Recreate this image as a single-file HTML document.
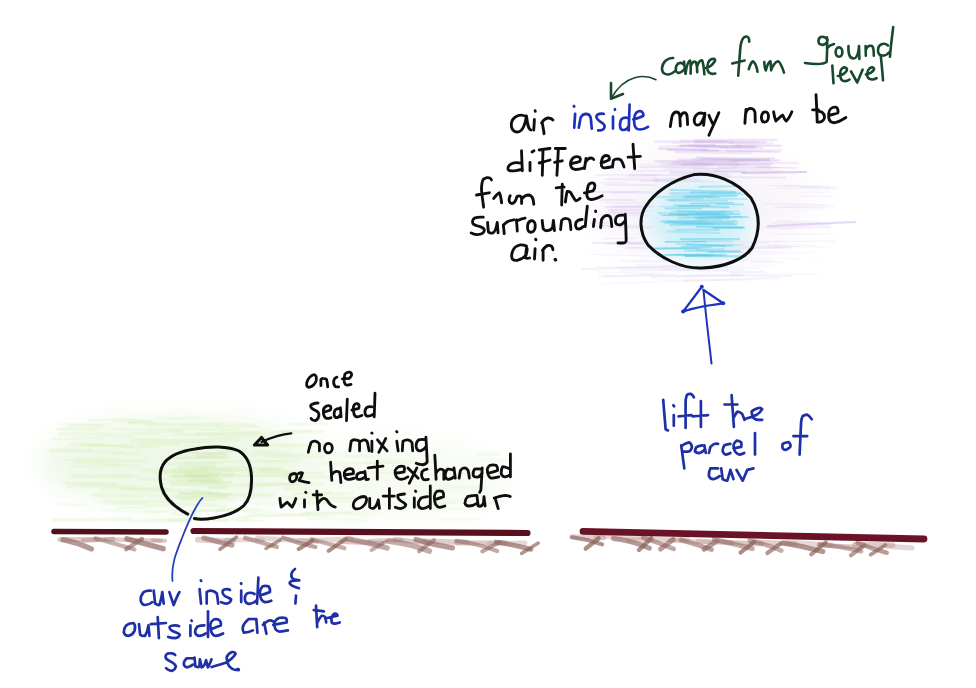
<!DOCTYPE html>
<html><head><meta charset="utf-8"><title>Air parcel</title>
<style>html,body{margin:0;padding:0;background:#fff;width:976px;height:688px;overflow:hidden;font-family:"Liberation Sans",sans-serif}svg{display:block}</style>
</head><body>
<svg width="976" height="688" viewBox="0 0 976 688">
<defs><filter id="blur" x="-50%" y="-50%" width="200%" height="200%"><feGaussianBlur stdDeviation="12"/></filter></defs>
<rect width="976" height="688" fill="#ffffff"/>
<g fill="none" stroke-linecap="round"><ellipse cx="180" cy="462" rx="140" ry="46" fill="#eef8e6" opacity="0.9" filter="url(#blur)"/>
<ellipse cx="390" cy="480" rx="120" ry="38" fill="#f4faee" opacity="0.7" filter="url(#blur)"/>
<path d="M216.6,451.7 L245.7,450.9" stroke="#d4eeb2" stroke-width="3.1" stroke-opacity="0.19"/>
<path d="M58.8,424.0 L109.2,423.8" stroke="#d4eeb2" stroke-width="2.1" stroke-opacity="0.15"/>
<path d="M76.7,462.1 L146.3,461.0" stroke="#d4eeb2" stroke-width="3.3" stroke-opacity="0.27"/>
<path d="M285.5,478.0 L329.3,476.8" stroke="#d4eeb2" stroke-width="3.7" stroke-opacity="0.18"/>
<path d="M129.6,433.0 L156.6,433.5" stroke="#d4eeb2" stroke-width="2.4" stroke-opacity="0.22"/>
<path d="M182.9,484.4 L225.3,483.3" stroke="#d4eeb2" stroke-width="2.1" stroke-opacity="0.17"/>
<path d="M125.2,488.8 L170.8,489.0" stroke="#d4eeb2" stroke-width="2.9" stroke-opacity="0.18"/>
<path d="M104.4,500.6 L166.4,500.9" stroke="#d4eeb2" stroke-width="3.1" stroke-opacity="0.26"/>
<path d="M292.8,493.9 L330.1,493.0" stroke="#d4eeb2" stroke-width="2.8" stroke-opacity="0.25"/>
<path d="M59.2,433.8 L108.6,434.3" stroke="#d4eeb2" stroke-width="3.5" stroke-opacity="0.22"/>
<path d="M221.2,509.0 L260.0,509.3" stroke="#d4eeb2" stroke-width="3.2" stroke-opacity="0.20"/>
<path d="M148.8,505.4 L225.4,506.1" stroke="#d4eeb2" stroke-width="2.1" stroke-opacity="0.24"/>
<path d="M218.8,485.3 L298.4,484.3" stroke="#d4eeb2" stroke-width="2.8" stroke-opacity="0.23"/>
<path d="M89.9,420.3 L137.6,419.3" stroke="#d4eeb2" stroke-width="2.1" stroke-opacity="0.25"/>
<path d="M147.8,431.5 L182.7,432.2" stroke="#d4eeb2" stroke-width="2.2" stroke-opacity="0.20"/>
<path d="M223.7,475.1 L296.7,476.7" stroke="#d4eeb2" stroke-width="2.6" stroke-opacity="0.20"/>
<path d="M253.0,455.3 L326.0,453.8" stroke="#d4eeb2" stroke-width="2.4" stroke-opacity="0.17"/>
<path d="M189.0,442.3 L238.1,441.6" stroke="#d4eeb2" stroke-width="2.0" stroke-opacity="0.20"/>
<path d="M270.2,456.4 L324.2,457.0" stroke="#d4eeb2" stroke-width="3.0" stroke-opacity="0.23"/>
<path d="M285.5,488.3 L308.7,488.7" stroke="#d4eeb2" stroke-width="3.7" stroke-opacity="0.25"/>
<path d="M75.0,458.8 L118.9,459.2" stroke="#d4eeb2" stroke-width="2.1" stroke-opacity="0.15"/>
<path d="M136.8,439.7 L166.5,438.9" stroke="#d4eeb2" stroke-width="2.0" stroke-opacity="0.16"/>
<path d="M56.2,428.6 L98.0,429.5" stroke="#d4eeb2" stroke-width="3.2" stroke-opacity="0.16"/>
<path d="M138.9,444.2 L179.8,443.3" stroke="#d4eeb2" stroke-width="3.7" stroke-opacity="0.28"/>
<path d="M70.3,466.5 L119.3,465.3" stroke="#d4eeb2" stroke-width="2.7" stroke-opacity="0.18"/>
<path d="M55.9,504.2 L85.6,505.0" stroke="#d4eeb2" stroke-width="3.1" stroke-opacity="0.16"/>
<path d="M189.1,474.5 L210.7,475.1" stroke="#d4eeb2" stroke-width="3.7" stroke-opacity="0.24"/>
<path d="M90.6,445.2 L132.6,445.8" stroke="#d4eeb2" stroke-width="3.1" stroke-opacity="0.25"/>
<path d="M254.2,452.3 L287.6,453.3" stroke="#d4eeb2" stroke-width="3.7" stroke-opacity="0.25"/>
<path d="M100.0,503.1 L164.4,503.2" stroke="#d4eeb2" stroke-width="2.7" stroke-opacity="0.14"/>
<path d="M114.3,420.9 L151.1,421.3" stroke="#d4eeb2" stroke-width="3.9" stroke-opacity="0.20"/>
<path d="M246.5,515.5 L325.7,514.8" stroke="#d4eeb2" stroke-width="2.4" stroke-opacity="0.17"/>
<path d="M207.7,438.5 L240.0,439.2" stroke="#d4eeb2" stroke-width="3.7" stroke-opacity="0.21"/>
<path d="M68.4,485.9 L136.4,486.6" stroke="#d4eeb2" stroke-width="3.8" stroke-opacity="0.25"/>
<path d="M92.2,496.0 L140.9,496.9" stroke="#d4eeb2" stroke-width="2.7" stroke-opacity="0.25"/>
<path d="M146.8,519.1 L190.6,520.2" stroke="#d4eeb2" stroke-width="3.4" stroke-opacity="0.16"/>
<path d="M281.6,431.2 L310.6,431.7" stroke="#d4eeb2" stroke-width="2.3" stroke-opacity="0.26"/>
<path d="M129.0,520.0 L188.5,520.1" stroke="#d4eeb2" stroke-width="2.3" stroke-opacity="0.14"/>
<path d="M169.0,519.0 L228.0,520.5" stroke="#d4eeb2" stroke-width="2.9" stroke-opacity="0.26"/>
<path d="M113.5,503.9 L146.2,503.5" stroke="#d4eeb2" stroke-width="2.5" stroke-opacity="0.22"/>
<path d="M81.4,445.0 L126.6,446.1" stroke="#d4eeb2" stroke-width="2.7" stroke-opacity="0.20"/>
<path d="M138.6,478.7 L212.9,480.5" stroke="#d4eeb2" stroke-width="3.0" stroke-opacity="0.21"/>
<path d="M166.1,472.4 L187.3,472.0" stroke="#d4eeb2" stroke-width="2.0" stroke-opacity="0.25"/>
<path d="M221.6,435.9 L270.0,436.1" stroke="#d4eeb2" stroke-width="2.7" stroke-opacity="0.21"/>
<path d="M73.1,475.8 L140.2,476.0" stroke="#d4eeb2" stroke-width="2.5" stroke-opacity="0.18"/>
<path d="M181.7,498.3 L232.2,499.1" stroke="#d4eeb2" stroke-width="3.8" stroke-opacity="0.20"/>
<path d="M170.2,481.7 L220.5,482.3" stroke="#d4eeb2" stroke-width="2.9" stroke-opacity="0.21"/>
<path d="M195.8,467.7 L272.3,469.4" stroke="#d4eeb2" stroke-width="3.9" stroke-opacity="0.18"/>
<path d="M225.1,476.2 L301.7,474.5" stroke="#d4eeb2" stroke-width="2.2" stroke-opacity="0.20"/>
<path d="M68.3,425.5 L102.8,425.9" stroke="#d4eeb2" stroke-width="3.6" stroke-opacity="0.27"/>
<path d="M196.6,434.1 L259.6,432.7" stroke="#d4eeb2" stroke-width="3.8" stroke-opacity="0.28"/>
<path d="M132.8,440.8 L209.9,440.8" stroke="#d4eeb2" stroke-width="4.0" stroke-opacity="0.26"/>
<path d="M173.3,434.8 L219.2,434.3" stroke="#d4eeb2" stroke-width="2.4" stroke-opacity="0.18"/>
<path d="M196.2,493.1 L217.3,493.0" stroke="#d4eeb2" stroke-width="2.0" stroke-opacity="0.19"/>
<path d="M65.1,482.9 L115.8,484.4" stroke="#d4eeb2" stroke-width="3.6" stroke-opacity="0.28"/>
<path d="M59.9,428.9 L95.8,429.5" stroke="#d4eeb2" stroke-width="2.5" stroke-opacity="0.16"/>
<path d="M222.2,461.9 L296.9,460.8" stroke="#d4eeb2" stroke-width="2.3" stroke-opacity="0.27"/>
<path d="M69.9,477.3 L132.0,475.7" stroke="#d4eeb2" stroke-width="3.4" stroke-opacity="0.20"/>
<path d="M182.4,425.5 L258.7,426.9" stroke="#d4eeb2" stroke-width="2.2" stroke-opacity="0.26"/>
<path d="M146.8,424.9 L218.5,424.2" stroke="#d4eeb2" stroke-width="3.1" stroke-opacity="0.27"/>
<path d="M185.5,445.9 L213.3,445.4" stroke="#d4eeb2" stroke-width="2.2" stroke-opacity="0.16"/>
<path d="M128.9,423.2 L161.0,422.9" stroke="#d4eeb2" stroke-width="3.5" stroke-opacity="0.18"/>
<path d="M138.3,470.0 L168.9,469.1" stroke="#d4eeb2" stroke-width="2.5" stroke-opacity="0.14"/>
<path d="M93.9,494.2 L147.0,494.2" stroke="#d4eeb2" stroke-width="3.9" stroke-opacity="0.15"/>
<path d="M168.3,503.2 L214.3,504.1" stroke="#d4eeb2" stroke-width="2.8" stroke-opacity="0.21"/>
<path d="M120.6,489.5 L199.6,491.1" stroke="#d4eeb2" stroke-width="3.4" stroke-opacity="0.23"/>
<path d="M63.3,460.1 L104.1,459.2" stroke="#d4eeb2" stroke-width="2.1" stroke-opacity="0.24"/>
<path d="M71.6,444.6 L101.4,445.2" stroke="#d4eeb2" stroke-width="3.7" stroke-opacity="0.23"/>
<path d="M123.4,447.3 L157.9,447.2" stroke="#d4eeb2" stroke-width="2.3" stroke-opacity="0.20"/>
<path d="M251.6,445.4 L329.3,445.6" stroke="#d4eeb2" stroke-width="2.5" stroke-opacity="0.28"/>
<path d="M50.3,450.2 L91.7,449.9" stroke="#d4eeb2" stroke-width="2.9" stroke-opacity="0.21"/>
<path d="M51.2,438.9 L101.4,438.2" stroke="#d4eeb2" stroke-width="2.2" stroke-opacity="0.20"/>
<path d="M130.2,422.3 L151.6,422.0" stroke="#d4eeb2" stroke-width="3.2" stroke-opacity="0.21"/>
<path d="M211.5,496.1 L270.9,497.4" stroke="#d4eeb2" stroke-width="2.8" stroke-opacity="0.19"/>
<path d="M235.4,520.4 L264.4,520.7" stroke="#d4eeb2" stroke-width="2.1" stroke-opacity="0.26"/>
<path d="M216.8,510.8 L274.5,511.8" stroke="#d4eeb2" stroke-width="2.3" stroke-opacity="0.21"/>
<path d="M222.9,470.5 L293.0,471.8" stroke="#d4eeb2" stroke-width="3.2" stroke-opacity="0.26"/>
<path d="M101.4,489.0 L163.0,487.3" stroke="#d4eeb2" stroke-width="2.3" stroke-opacity="0.19"/>
<path d="M170.0,428.9 L240.1,429.4" stroke="#d4eeb2" stroke-width="3.3" stroke-opacity="0.24"/>
<path d="M261.2,468.9 L281.4,469.2" stroke="#d4eeb2" stroke-width="3.0" stroke-opacity="0.21"/>
<path d="M242.3,486.6 L266.3,486.2" stroke="#d4eeb2" stroke-width="2.1" stroke-opacity="0.18"/>
<path d="M236.9,493.9 L269.3,494.8" stroke="#d4eeb2" stroke-width="3.0" stroke-opacity="0.19"/>
<path d="M221.8,467.8 L282.8,468.2" stroke="#d4eeb2" stroke-width="3.3" stroke-opacity="0.15"/>
<path d="M235.6,433.3 L270.9,432.9" stroke="#d4eeb2" stroke-width="3.1" stroke-opacity="0.14"/>
<path d="M217.2,424.3 L253.4,424.7" stroke="#d4eeb2" stroke-width="3.4" stroke-opacity="0.18"/>
<path d="M160.6,471.7 L208.5,470.6" stroke="#d4eeb2" stroke-width="3.8" stroke-opacity="0.17"/>
<path d="M53.7,519.7 L129.8,519.5" stroke="#d4eeb2" stroke-width="3.6" stroke-opacity="0.28"/>
<path d="M102.2,464.7 L138.3,465.7" stroke="#d4eeb2" stroke-width="2.4" stroke-opacity="0.22"/>
<path d="M272.5,432.7 L324.0,431.6" stroke="#d4eeb2" stroke-width="3.6" stroke-opacity="0.21"/>
<path d="M101.6,510.2 L163.8,511.7" stroke="#d4eeb2" stroke-width="3.0" stroke-opacity="0.14"/>
<path d="M156.2,418.4 L205.7,417.8" stroke="#d4eeb2" stroke-width="2.3" stroke-opacity="0.19"/>
<path d="M50.4,450.9 L120.8,451.9" stroke="#d4eeb2" stroke-width="3.7" stroke-opacity="0.16"/>
<path d="M250.3,514.3 L313.1,513.6" stroke="#d4eeb2" stroke-width="2.7" stroke-opacity="0.20"/>
<path d="M132.8,521.9 L188.2,521.6" stroke="#d4eeb2" stroke-width="2.6" stroke-opacity="0.15"/>
<path d="M111.4,428.6 L181.5,430.4" stroke="#d4eeb2" stroke-width="2.5" stroke-opacity="0.18"/>
<path d="M144.7,471.1 L176.1,472.0" stroke="#d4eeb2" stroke-width="3.8" stroke-opacity="0.25"/>
<path d="M247.7,483.6 L322.5,483.8" stroke="#d4eeb2" stroke-width="3.4" stroke-opacity="0.15"/>
<path d="M229.1,494.2 L276.1,494.6" stroke="#d4eeb2" stroke-width="2.6" stroke-opacity="0.15"/>
<path d="M171.5,514.4 L199.2,514.1" stroke="#d4eeb2" stroke-width="2.6" stroke-opacity="0.24"/>
<path d="M213.6,519.5 L249.2,519.1" stroke="#d4eeb2" stroke-width="3.1" stroke-opacity="0.20"/>
<path d="M103.1,435.4 L132.8,436.1" stroke="#d4eeb2" stroke-width="3.0" stroke-opacity="0.17"/>
<path d="M142.3,512.3 L222.1,510.5" stroke="#d4eeb2" stroke-width="2.4" stroke-opacity="0.15"/>
<path d="M112.1,453.6 L137.5,453.2" stroke="#d4eeb2" stroke-width="3.1" stroke-opacity="0.26"/>
<path d="M149.4,496.0 L194.2,496.0" stroke="#d4eeb2" stroke-width="2.8" stroke-opacity="0.19"/>
<path d="M290.3,424.5 L327.0,423.6" stroke="#d4eeb2" stroke-width="3.0" stroke-opacity="0.23"/>
<path d="M118.3,507.7 L151.3,507.2" stroke="#d4eeb2" stroke-width="2.8" stroke-opacity="0.20"/>
<path d="M236.9,517.2 L307.8,515.2" stroke="#d4eeb2" stroke-width="2.1" stroke-opacity="0.24"/>
<path d="M188.9,511.2 L237.3,509.7" stroke="#d4eeb2" stroke-width="2.8" stroke-opacity="0.27"/>
<path d="M257.7,503.9 L329.1,502.8" stroke="#d4eeb2" stroke-width="2.2" stroke-opacity="0.16"/>
<path d="M261.0,472.3 L321.9,473.1" stroke="#d4eeb2" stroke-width="3.3" stroke-opacity="0.25"/>
<path d="M258.6,484.0 L311.7,484.9" stroke="#dcf0c0" stroke-width="2.5" stroke-opacity="0.19"/>
<path d="M279.7,497.2 L317.9,496.6" stroke="#dcf0c0" stroke-width="3.3" stroke-opacity="0.17"/>
<path d="M378.9,459.8 L403.1,460.0" stroke="#dcf0c0" stroke-width="2.8" stroke-opacity="0.12"/>
<path d="M325.2,494.1 L345.8,494.0" stroke="#dcf0c0" stroke-width="3.9" stroke-opacity="0.16"/>
<path d="M302.0,513.9 L350.5,513.1" stroke="#dcf0c0" stroke-width="3.9" stroke-opacity="0.17"/>
<path d="M373.9,473.5 L395.2,473.7" stroke="#dcf0c0" stroke-width="2.8" stroke-opacity="0.13"/>
<path d="M294.1,498.7 L369.6,496.6" stroke="#dcf0c0" stroke-width="2.7" stroke-opacity="0.14"/>
<path d="M439.8,499.8 L471.7,500.2" stroke="#dcf0c0" stroke-width="3.0" stroke-opacity="0.12"/>
<path d="M439.7,519.9 L478.4,519.3" stroke="#dcf0c0" stroke-width="2.4" stroke-opacity="0.18"/>
<path d="M345.6,472.6 L422.7,471.2" stroke="#dcf0c0" stroke-width="2.4" stroke-opacity="0.14"/>
<path d="M278.3,498.6 L355.2,498.1" stroke="#dcf0c0" stroke-width="2.4" stroke-opacity="0.20"/>
<path d="M264.8,461.9 L288.0,461.8" stroke="#dcf0c0" stroke-width="3.8" stroke-opacity="0.19"/>
<path d="M427.1,503.3 L507.0,502.5" stroke="#dcf0c0" stroke-width="2.4" stroke-opacity="0.19"/>
<path d="M414.8,504.2 L436.7,504.1" stroke="#dcf0c0" stroke-width="2.7" stroke-opacity="0.13"/>
<path d="M319.9,463.8 L340.1,463.7" stroke="#dcf0c0" stroke-width="3.9" stroke-opacity="0.11"/>
<path d="M334.7,519.5 L367.2,520.1" stroke="#dcf0c0" stroke-width="3.6" stroke-opacity="0.14"/>
<path d="M332.6,455.4 L381.0,456.7" stroke="#dcf0c0" stroke-width="2.4" stroke-opacity="0.14"/>
<path d="M352.0,514.8 L373.8,515.2" stroke="#dcf0c0" stroke-width="3.5" stroke-opacity="0.10"/>
<path d="M476.6,454.4 L500.3,454.1" stroke="#dcf0c0" stroke-width="3.5" stroke-opacity="0.19"/>
<path d="M473.8,475.7 L510.1,476.0" stroke="#dcf0c0" stroke-width="2.5" stroke-opacity="0.17"/>
<path d="M250.9,474.2 L287.4,474.7" stroke="#dcf0c0" stroke-width="3.8" stroke-opacity="0.16"/>
<path d="M308.1,518.0 L329.6,518.0" stroke="#dcf0c0" stroke-width="3.9" stroke-opacity="0.20"/>
<path d="M351.0,479.1 L386.1,479.0" stroke="#dcf0c0" stroke-width="3.9" stroke-opacity="0.12"/>
<path d="M419.2,508.2 L483.5,509.2" stroke="#dcf0c0" stroke-width="3.2" stroke-opacity="0.13"/>
<path d="M428.6,474.4 L470.3,473.3" stroke="#dcf0c0" stroke-width="2.4" stroke-opacity="0.18"/>
<path d="M258.3,469.3 L282.2,469.4" stroke="#dcf0c0" stroke-width="2.7" stroke-opacity="0.20"/>
<path d="M300.5,513.8 L379.8,511.9" stroke="#dcf0c0" stroke-width="2.2" stroke-opacity="0.15"/>
<path d="M302.3,501.7 L349.1,501.5" stroke="#dcf0c0" stroke-width="3.2" stroke-opacity="0.17"/>
<path d="M382.3,504.4 L453.2,502.7" stroke="#dcf0c0" stroke-width="3.7" stroke-opacity="0.13"/>
<path d="M418.0,491.7 L460.4,490.9" stroke="#dcf0c0" stroke-width="2.5" stroke-opacity="0.12"/>
<path d="M363.9,462.7 L436.9,462.0" stroke="#dcf0c0" stroke-width="2.8" stroke-opacity="0.20"/>
<path d="M440.9,487.5 L474.8,487.8" stroke="#dcf0c0" stroke-width="4.0" stroke-opacity="0.11"/>
<path d="M418.8,485.2 L488.0,487.0" stroke="#dcf0c0" stroke-width="2.1" stroke-opacity="0.13"/>
<path d="M482.2,460.3 L513.5,460.5" stroke="#dcf0c0" stroke-width="3.9" stroke-opacity="0.14"/>
<path d="M308.0,512.6 L354.9,513.4" stroke="#dcf0c0" stroke-width="3.9" stroke-opacity="0.11"/>
<path d="M296.3,493.7 L353.5,493.3" stroke="#dcf0c0" stroke-width="2.3" stroke-opacity="0.12"/>
<path d="M389.5,469.8 L445.4,468.8" stroke="#dcf0c0" stroke-width="2.0" stroke-opacity="0.13"/>
<path d="M324.6,499.5 L355.7,498.9" stroke="#dcf0c0" stroke-width="3.6" stroke-opacity="0.15"/>
<path d="M346.4,456.4 L372.5,456.5" stroke="#dcf0c0" stroke-width="3.3" stroke-opacity="0.11"/>
<path d="M335.3,463.5 L397.1,462.7" stroke="#dcf0c0" stroke-width="2.6" stroke-opacity="0.20"/>
<path d="M179.5,467.0 L214.3,466.8" stroke="#c8e6a0" stroke-width="3.7" stroke-opacity="0.28"/>
<path d="M200.8,469.5 L222.7,469.1" stroke="#c8e6a0" stroke-width="2.0" stroke-opacity="0.27"/>
<path d="M177.5,472.3 L221.2,473.3" stroke="#c8e6a0" stroke-width="2.9" stroke-opacity="0.16"/>
<path d="M188.9,452.7 L223.3,453.6" stroke="#c8e6a0" stroke-width="2.2" stroke-opacity="0.23"/>
<path d="M173.0,469.8 L205.7,469.4" stroke="#c8e6a0" stroke-width="3.0" stroke-opacity="0.27"/>
<path d="M196.0,457.2 L228.2,458.1" stroke="#c8e6a0" stroke-width="2.4" stroke-opacity="0.16"/>
<path d="M176.6,497.3 L225.8,496.0" stroke="#c8e6a0" stroke-width="3.9" stroke-opacity="0.19"/>
<path d="M193.0,495.4 L229.7,494.7" stroke="#c8e6a0" stroke-width="3.6" stroke-opacity="0.17"/>
<path d="M186.6,471.4 L231.2,470.6" stroke="#c8e6a0" stroke-width="2.4" stroke-opacity="0.20"/>
<path d="M172.7,476.9 L201.2,476.4" stroke="#c8e6a0" stroke-width="3.4" stroke-opacity="0.27"/>
<path d="M192.5,454.0 L227.2,453.0" stroke="#c8e6a0" stroke-width="3.7" stroke-opacity="0.16"/>
<path d="M188.5,480.8 L222.8,480.4" stroke="#c8e6a0" stroke-width="2.8" stroke-opacity="0.22"/>
<path d="M180.9,472.4 L219.0,472.3" stroke="#c8e6a0" stroke-width="2.0" stroke-opacity="0.23"/>
<path d="M201.4,475.5 L224.7,475.9" stroke="#c8e6a0" stroke-width="2.9" stroke-opacity="0.17"/>
<path d="M174.2,474.7 L192.9,474.6" stroke="#c8e6a0" stroke-width="2.2" stroke-opacity="0.20"/>
<path d="M200.2,476.5 L216.6,476.1" stroke="#c8e6a0" stroke-width="3.5" stroke-opacity="0.25"/>
<path d="M193.2,476.6 L210.1,476.4" stroke="#c8e6a0" stroke-width="3.9" stroke-opacity="0.16"/>
<path d="M180.5,493.1 L230.4,494.1" stroke="#c8e6a0" stroke-width="2.4" stroke-opacity="0.28"/>
<path d="M185.0,475.6 L233.4,474.6" stroke="#c8e6a0" stroke-width="3.6" stroke-opacity="0.27"/>
<path d="M198.0,455.1 L225.3,454.6" stroke="#c8e6a0" stroke-width="3.8" stroke-opacity="0.18"/>
<path d="M191.6,491.2 L211.6,491.7" stroke="#c8e6a0" stroke-width="2.4" stroke-opacity="0.18"/>
<path d="M169.5,476.3 L195.7,475.8" stroke="#c8e6a0" stroke-width="2.3" stroke-opacity="0.27"/>
<path d="M171.5,484.6 L217.8,485.4" stroke="#c8e6a0" stroke-width="2.2" stroke-opacity="0.21"/>
<path d="M202.4,482.5 L230.0,482.6" stroke="#c8e6a0" stroke-width="3.2" stroke-opacity="0.26"/>
<path d="M178.9,457.0 L228.6,456.7" stroke="#c8e6a0" stroke-width="3.6" stroke-opacity="0.18"/>
<path d="M179.5,499.5 L214.7,500.1" stroke="#c8e6a0" stroke-width="2.9" stroke-opacity="0.16"/>
<path d="M209.2,487.7 L225.9,487.4" stroke="#c8e6a0" stroke-width="3.3" stroke-opacity="0.28"/>
<path d="M177.0,480.1 L215.2,479.0" stroke="#c8e6a0" stroke-width="2.1" stroke-opacity="0.16"/>
<path d="M186.9,481.6 L217.0,482.3" stroke="#c8e6a0" stroke-width="2.3" stroke-opacity="0.17"/>
<path d="M168.1,483.3 L183.9,483.2" stroke="#c8e6a0" stroke-width="2.2" stroke-opacity="0.19"/>
<path d="M186.6,462.8 L222.0,462.1" stroke="#c8e6a0" stroke-width="3.2" stroke-opacity="0.21"/>
<path d="M172.7,458.5 L220.5,457.5" stroke="#c8e6a0" stroke-width="2.2" stroke-opacity="0.23"/>
<path d="M177.9,493.8 L220.3,493.2" stroke="#c8e6a0" stroke-width="2.0" stroke-opacity="0.23"/>
<path d="M193.7,479.0 L220.9,478.9" stroke="#c8e6a0" stroke-width="3.9" stroke-opacity="0.24"/>
<path d="M168.9,463.9 L215.5,464.0" stroke="#c8e6a0" stroke-width="2.8" stroke-opacity="0.17"/>
<ellipse cx="700" cy="205" rx="110" ry="58" fill="#f9f5fb" opacity="0.9" filter="url(#blur)"/>
<path d="M655.7,141.6 L732.5,141.9" stroke="#c4a2e4" stroke-width="2.9" stroke-opacity="0.20"/>
<path d="M689.7,145.6 L756.2,146.2" stroke="#c4a2e4" stroke-width="2.7" stroke-opacity="0.21"/>
<path d="M659.2,148.7 L707.2,149.8" stroke="#c4a2e4" stroke-width="2.7" stroke-opacity="0.30"/>
<path d="M695.5,140.2 L776.2,140.0" stroke="#c4a2e4" stroke-width="2.6" stroke-opacity="0.25"/>
<path d="M677.9,146.3 L714.2,145.3" stroke="#c4a2e4" stroke-width="2.0" stroke-opacity="0.31"/>
<path d="M693.6,159.5 L774.4,158.3" stroke="#c4a2e4" stroke-width="2.3" stroke-opacity="0.25"/>
<path d="M674.5,162.1 L735.9,162.6" stroke="#c4a2e4" stroke-width="2.9" stroke-opacity="0.21"/>
<path d="M682.1,164.6 L713.0,164.2" stroke="#c4a2e4" stroke-width="2.6" stroke-opacity="0.34"/>
<path d="M730.2,160.9 L779.8,160.4" stroke="#c4a2e4" stroke-width="1.9" stroke-opacity="0.33"/>
<path d="M697.2,157.7 L768.8,159.7" stroke="#c4a2e4" stroke-width="2.2" stroke-opacity="0.32"/>
<path d="M678.4,159.5 L759.9,160.6" stroke="#c4a2e4" stroke-width="2.4" stroke-opacity="0.23"/>
<path d="M660.3,145.9 L727.6,147.6" stroke="#c4a2e4" stroke-width="1.7" stroke-opacity="0.18"/>
<path d="M672.0,143.0 L757.7,141.1" stroke="#c4a2e4" stroke-width="1.5" stroke-opacity="0.18"/>
<path d="M701.7,159.4 L769.7,160.4" stroke="#c4a2e4" stroke-width="1.6" stroke-opacity="0.28"/>
<path d="M700.9,150.2 L779.9,152.0" stroke="#c4a2e4" stroke-width="1.6" stroke-opacity="0.33"/>
<path d="M660.2,165.6 L746.8,164.1" stroke="#c4a2e4" stroke-width="1.7" stroke-opacity="0.18"/>
<path d="M690.7,163.7 L769.4,165.3" stroke="#c4a2e4" stroke-width="2.4" stroke-opacity="0.23"/>
<path d="M730.1,142.8 L765.9,142.2" stroke="#c4a2e4" stroke-width="2.0" stroke-opacity="0.25"/>
<path d="M680.3,140.6 L725.7,141.2" stroke="#c4a2e4" stroke-width="2.1" stroke-opacity="0.23"/>
<path d="M718.7,167.0 L778.9,167.4" stroke="#c4a2e4" stroke-width="1.5" stroke-opacity="0.25"/>
<path d="M675.3,152.2 L751.7,153.2" stroke="#c4a2e4" stroke-width="2.3" stroke-opacity="0.21"/>
<path d="M736.6,164.1 L772.1,163.4" stroke="#c4a2e4" stroke-width="1.5" stroke-opacity="0.21"/>
<path d="M655.2,161.3 L743.9,161.3" stroke="#c4a2e4" stroke-width="2.2" stroke-opacity="0.31"/>
<path d="M681.2,145.2 L740.8,146.4" stroke="#c4a2e4" stroke-width="1.9" stroke-opacity="0.34"/>
<path d="M719.4,147.9 L762.3,147.9" stroke="#c4a2e4" stroke-width="1.7" stroke-opacity="0.29"/>
<path d="M695.2,142.3 L772.5,143.6" stroke="#c4a2e4" stroke-width="2.4" stroke-opacity="0.24"/>
<path d="M727.4,151.2 L781.1,149.9" stroke="#c4a2e4" stroke-width="2.8" stroke-opacity="0.18"/>
<path d="M735.4,145.8 L781.2,145.8" stroke="#c4a2e4" stroke-width="2.1" stroke-opacity="0.33"/>
<path d="M696.1,146.5 L753.8,147.4" stroke="#c4a2e4" stroke-width="2.6" stroke-opacity="0.29"/>
<path d="M668.3,149.8 L717.9,150.8" stroke="#c4a2e4" stroke-width="2.5" stroke-opacity="0.30"/>
<path d="M717.9,163.7 L774.2,164.0" stroke="#ccaee8" stroke-width="1.2" stroke-opacity="0.22"/>
<path d="M654.1,179.5 L698.4,178.9" stroke="#ccaee8" stroke-width="2.1" stroke-opacity="0.28"/>
<path d="M662.3,163.4 L701.7,163.0" stroke="#ccaee8" stroke-width="1.8" stroke-opacity="0.17"/>
<path d="M755.4,167.2 L796.8,167.8" stroke="#ccaee8" stroke-width="1.2" stroke-opacity="0.29"/>
<path d="M745.1,162.2 L798.1,163.2" stroke="#ccaee8" stroke-width="2.1" stroke-opacity="0.22"/>
<path d="M640.9,164.3 L709.1,163.1" stroke="#ccaee8" stroke-width="1.6" stroke-opacity="0.16"/>
<path d="M694.2,168.8 L771.6,168.8" stroke="#ccaee8" stroke-width="1.9" stroke-opacity="0.22"/>
<path d="M672.0,163.1 L738.2,164.1" stroke="#ccaee8" stroke-width="2.4" stroke-opacity="0.21"/>
<path d="M670.0,172.6 L745.0,171.4" stroke="#ccaee8" stroke-width="2.1" stroke-opacity="0.28"/>
<path d="M713.5,177.0 L785.5,177.8" stroke="#ccaee8" stroke-width="2.0" stroke-opacity="0.22"/>
<path d="M640.0,166.9 L707.7,166.6" stroke="#ccaee8" stroke-width="2.2" stroke-opacity="0.26"/>
<path d="M682.9,173.9 L727.9,173.7" stroke="#ccaee8" stroke-width="1.9" stroke-opacity="0.21"/>
<path d="M645.4,174.9 L731.2,175.7" stroke="#ccaee8" stroke-width="2.2" stroke-opacity="0.21"/>
<path d="M633.1,170.8 L721.6,171.0" stroke="#ccaee8" stroke-width="1.2" stroke-opacity="0.27"/>
<path d="M641.0,180.7 L702.2,181.0" stroke="#ccaee8" stroke-width="1.8" stroke-opacity="0.26"/>
<path d="M714.3,171.3 L782.6,171.4" stroke="#ccaee8" stroke-width="1.6" stroke-opacity="0.29"/>
<path d="M668.8,164.6 L739.9,165.7" stroke="#ccaee8" stroke-width="1.2" stroke-opacity="0.30"/>
<path d="M667.5,167.8 L700.9,167.6" stroke="#ccaee8" stroke-width="1.0" stroke-opacity="0.21"/>
<path d="M664.5,169.3 L736.4,168.2" stroke="#ccaee8" stroke-width="1.3" stroke-opacity="0.26"/>
<path d="M653.7,180.7 L715.3,181.8" stroke="#ccaee8" stroke-width="1.6" stroke-opacity="0.18"/>
<path d="M605.3,184.7 L656.4,185.1" stroke="#d0b4ea" stroke-width="1.7" stroke-opacity="0.23"/>
<path d="M594.0,191.9 L652.6,192.4" stroke="#d0b4ea" stroke-width="2.2" stroke-opacity="0.27"/>
<path d="M611.0,210.1 L642.7,209.4" stroke="#d0b4ea" stroke-width="2.3" stroke-opacity="0.20"/>
<path d="M604.8,238.8 L635.5,238.3" stroke="#d0b4ea" stroke-width="1.6" stroke-opacity="0.18"/>
<path d="M595.9,175.2 L644.8,174.5" stroke="#d0b4ea" stroke-width="1.5" stroke-opacity="0.22"/>
<path d="M606.2,207.1 L651.6,206.8" stroke="#d0b4ea" stroke-width="2.4" stroke-opacity="0.28"/>
<path d="M605.3,179.3 L658.4,180.2" stroke="#d0b4ea" stroke-width="1.2" stroke-opacity="0.27"/>
<path d="M590.6,222.5 L611.2,223.0" stroke="#d0b4ea" stroke-width="2.0" stroke-opacity="0.19"/>
<path d="M600.3,182.6 L626.1,183.0" stroke="#d0b4ea" stroke-width="1.5" stroke-opacity="0.17"/>
<path d="M593.1,242.8 L644.7,244.0" stroke="#d0b4ea" stroke-width="1.9" stroke-opacity="0.27"/>
<path d="M601.2,225.1 L657.0,226.3" stroke="#d0b4ea" stroke-width="1.3" stroke-opacity="0.25"/>
<path d="M598.9,214.8 L648.6,216.0" stroke="#d0b4ea" stroke-width="1.8" stroke-opacity="0.19"/>
<path d="M611.9,192.6 L637.5,191.9" stroke="#d0b4ea" stroke-width="1.7" stroke-opacity="0.17"/>
<path d="M606.2,211.9 L646.2,212.7" stroke="#d0b4ea" stroke-width="1.0" stroke-opacity="0.28"/>
<path d="M608.3,210.1 L650.8,211.0" stroke="#d0b4ea" stroke-width="1.6" stroke-opacity="0.21"/>
<path d="M619.9,247.0 L642.9,247.2" stroke="#d0b4ea" stroke-width="1.0" stroke-opacity="0.24"/>
<path d="M594.2,226.2 L651.5,227.8" stroke="#d0b4ea" stroke-width="1.8" stroke-opacity="0.22"/>
<path d="M624.9,242.3 L646.3,242.5" stroke="#d0b4ea" stroke-width="1.5" stroke-opacity="0.28"/>
<path d="M606.3,202.5 L645.3,203.1" stroke="#d0b4ea" stroke-width="1.3" stroke-opacity="0.22"/>
<path d="M613.0,206.7 L655.2,206.2" stroke="#d0b4ea" stroke-width="2.2" stroke-opacity="0.21"/>
<path d="M609.8,212.8 L640.7,213.7" stroke="#d0b4ea" stroke-width="2.0" stroke-opacity="0.27"/>
<path d="M601.2,199.8 L633.8,200.0" stroke="#d0b4ea" stroke-width="2.0" stroke-opacity="0.27"/>
<path d="M608.7,178.0 L657.6,178.1" stroke="#d0b4ea" stroke-width="1.1" stroke-opacity="0.20"/>
<path d="M629.1,175.5 L656.7,175.6" stroke="#d0b4ea" stroke-width="2.0" stroke-opacity="0.27"/>
<path d="M605.7,243.2 L650.2,243.6" stroke="#d0b4ea" stroke-width="2.0" stroke-opacity="0.24"/>
<path d="M791.0,225.9 L829.5,225.8" stroke="#d6c0ee" stroke-width="2.1" stroke-opacity="0.11"/>
<path d="M801.5,195.9 L832.9,196.7" stroke="#d6c0ee" stroke-width="2.0" stroke-opacity="0.14"/>
<path d="M773.2,234.4 L834.7,233.5" stroke="#d6c0ee" stroke-width="1.5" stroke-opacity="0.14"/>
<path d="M784.2,204.1 L831.5,205.3" stroke="#d6c0ee" stroke-width="1.1" stroke-opacity="0.16"/>
<path d="M800.7,187.4 L835.5,187.5" stroke="#d6c0ee" stroke-width="2.4" stroke-opacity="0.14"/>
<path d="M783.4,185.8 L828.9,187.0" stroke="#d6c0ee" stroke-width="2.5" stroke-opacity="0.15"/>
<path d="M792.8,209.7 L826.9,209.2" stroke="#d6c0ee" stroke-width="1.2" stroke-opacity="0.10"/>
<path d="M763.4,185.3 L820.7,186.9" stroke="#d6c0ee" stroke-width="1.1" stroke-opacity="0.19"/>
<path d="M799.1,192.7 L829.8,192.3" stroke="#d6c0ee" stroke-width="2.1" stroke-opacity="0.12"/>
<path d="M777.2,188.0 L838.1,189.3" stroke="#d6c0ee" stroke-width="2.1" stroke-opacity="0.11"/>
<path d="M772.3,222.7 L830.6,224.2" stroke="#d6c0ee" stroke-width="1.4" stroke-opacity="0.20"/>
<path d="M760.8,228.0 L791.3,228.3" stroke="#d6c0ee" stroke-width="2.2" stroke-opacity="0.11"/>
<path d="M764.3,203.7 L823.5,204.9" stroke="#d6c0ee" stroke-width="1.7" stroke-opacity="0.11"/>
<path d="M774.0,207.1 L827.0,207.6" stroke="#d6c0ee" stroke-width="1.2" stroke-opacity="0.18"/>
<path d="M778.4,206.8 L834.2,206.5" stroke="#d6c0ee" stroke-width="1.6" stroke-opacity="0.18"/>
<path d="M773.4,241.7 L834.8,240.9" stroke="#d6c0ee" stroke-width="1.1" stroke-opacity="0.20"/>
<path d="M767.3,227.2 L830.4,227.6" stroke="#d6c0ee" stroke-width="2.5" stroke-opacity="0.18"/>
<path d="M778.3,221.1 L820.6,222.1" stroke="#d6c0ee" stroke-width="1.6" stroke-opacity="0.17"/>
<path d="M742,173 L806,172" stroke="#c4a0e6" stroke-width="2" stroke-opacity="0.5"/>
<path d="M768,226 L855,222" stroke="#c8a8e8" stroke-width="2.2" stroke-opacity="0.45"/>
<path d="M681.8,267.1 L774.5,265.9" stroke="#dac8ee" stroke-width="1.0" stroke-opacity="0.16"/>
<path d="M700.6,259.0 L771.7,260.7" stroke="#dac8ee" stroke-width="1.1" stroke-opacity="0.23"/>
<path d="M651.8,276.5 L742.5,275.3" stroke="#dac8ee" stroke-width="2.3" stroke-opacity="0.23"/>
<path d="M620.5,270.8 L714.4,268.5" stroke="#dac8ee" stroke-width="1.8" stroke-opacity="0.22"/>
<path d="M707.8,249.0 L790.3,247.7" stroke="#dac8ee" stroke-width="1.9" stroke-opacity="0.21"/>
<path d="M621.0,260.9 L665.5,261.6" stroke="#dac8ee" stroke-width="2.2" stroke-opacity="0.18"/>
<path d="M682.0,243.9 L768.4,242.6" stroke="#dac8ee" stroke-width="1.9" stroke-opacity="0.24"/>
<path d="M650.5,279.8 L717.1,280.2" stroke="#dac8ee" stroke-width="1.3" stroke-opacity="0.15"/>
<path d="M627.9,248.1 L707.0,248.4" stroke="#dac8ee" stroke-width="1.6" stroke-opacity="0.19"/>
<path d="M766.3,246.7 L799.5,246.5" stroke="#dac8ee" stroke-width="1.2" stroke-opacity="0.20"/>
<path d="M684.9,275.4 L725.9,275.0" stroke="#dac8ee" stroke-width="1.8" stroke-opacity="0.13"/>
<path d="M683.8,241.5 L783.2,241.4" stroke="#dac8ee" stroke-width="1.9" stroke-opacity="0.16"/>
<path d="M731.3,275.1 L791.2,276.0" stroke="#dac8ee" stroke-width="2.2" stroke-opacity="0.25"/>
<path d="M613.7,251.4 L646.3,250.8" stroke="#dac8ee" stroke-width="1.1" stroke-opacity="0.13"/>
<path d="M636.4,265.1 L727.4,267.5" stroke="#dac8ee" stroke-width="2.4" stroke-opacity="0.13"/>
<path d="M595.0,266.9 L652.9,268.5" stroke="#dac8ee" stroke-width="1.4" stroke-opacity="0.20"/>
<path d="M660.8,268.8 L757.7,268.2" stroke="#dac8ee" stroke-width="1.7" stroke-opacity="0.14"/>
<path d="M602.8,283.5 L702.3,280.7" stroke="#dac8ee" stroke-width="1.4" stroke-opacity="0.17"/>
<path d="M685.2,280.6 L778.6,278.1" stroke="#dac8ee" stroke-width="2.2" stroke-opacity="0.21"/>
<path d="M582.0,269.1 L681.0,267.0" stroke="#dac8ee" stroke-width="2.1" stroke-opacity="0.24"/>
<path d="M678.0,270.5 L728.9,271.2" stroke="#dac8ee" stroke-width="1.2" stroke-opacity="0.17"/>
<path d="M664.7,251.6 L703.4,250.8" stroke="#dac8ee" stroke-width="1.4" stroke-opacity="0.14"/>
<path d="M714.2,270.5 L745.1,269.9" stroke="#dac8ee" stroke-width="1.1" stroke-opacity="0.24"/>
<path d="M687.3,249.9 L782.7,252.1" stroke="#dac8ee" stroke-width="1.2" stroke-opacity="0.18"/>
<path d="M684.5,244.4 L779.5,245.1" stroke="#dac8ee" stroke-width="1.7" stroke-opacity="0.17"/>
<path d="M676.5,277.0 L739.9,275.7" stroke="#dac8ee" stroke-width="1.3" stroke-opacity="0.13"/>
<path d="M597.6,272.1 L666.3,273.6" stroke="#dac8ee" stroke-width="1.4" stroke-opacity="0.18"/>
<path d="M722.8,247.0 L771.8,246.5" stroke="#dac8ee" stroke-width="1.3" stroke-opacity="0.19"/>
<path d="M590.0,254.3 L683.3,257.0" stroke="#dac8ee" stroke-width="1.1" stroke-opacity="0.24"/>
<path d="M661.0,270.1 L705.8,269.5" stroke="#dac8ee" stroke-width="1.4" stroke-opacity="0.15"/>
<path d="M700.4,256.4 L799.8,258.9" stroke="#dac8ee" stroke-width="1.1" stroke-opacity="0.16"/>
<path d="M713.7,280.3 L747.8,279.9" stroke="#dac8ee" stroke-width="2.5" stroke-opacity="0.13"/>
<path d="M599.0,276.3 L652.8,274.7" stroke="#dac8ee" stroke-width="2.2" stroke-opacity="0.19"/>
<path d="M725.1,248.4 L785.5,247.3" stroke="#dac8ee" stroke-width="1.9" stroke-opacity="0.14"/>
<path d="M675.4,248.1 L759.3,246.6" stroke="#dac8ee" stroke-width="1.1" stroke-opacity="0.14"/>
<path d="M618.9,267.4 L683.6,266.2" stroke="#dac8ee" stroke-width="1.9" stroke-opacity="0.21"/>
<path d="M606.2,276.5 L677.0,274.7" stroke="#dac8ee" stroke-width="2.1" stroke-opacity="0.18"/>
<path d="M729.9,272.5 L763.8,272.1" stroke="#dac8ee" stroke-width="2.3" stroke-opacity="0.23"/>
<path d="M751.5,262.2 L782.6,262.1" stroke="#dac8ee" stroke-width="2.3" stroke-opacity="0.16"/>
<path d="M625.2,248.4 L713.4,246.6" stroke="#dac8ee" stroke-width="1.6" stroke-opacity="0.20"/>
<path d="M773.0,245.2 L813.8,245.2" stroke="#dccaee" stroke-width="1.2" stroke-opacity="0.13"/>
<path d="M764.9,273.6 L819.6,274.3" stroke="#dccaee" stroke-width="1.6" stroke-opacity="0.13"/>
<path d="M774.4,247.1 L829.3,247.1" stroke="#dccaee" stroke-width="1.8" stroke-opacity="0.11"/>
<path d="M807.6,263.8 L828.4,263.5" stroke="#dccaee" stroke-width="1.3" stroke-opacity="0.08"/>
<path d="M760.5,253.8 L813.2,252.5" stroke="#dccaee" stroke-width="2.0" stroke-opacity="0.09"/>
<path d="M775.0,245.6 L819.0,245.7" stroke="#dccaee" stroke-width="2.1" stroke-opacity="0.08"/>
<ellipse cx="699" cy="221" rx="50" ry="38" fill="#cdf0f8" filter="url(#blur)"/>
<path d="M653.7,248.6 L711.0,247.3" stroke="#50c8e8" stroke-width="1.7" stroke-opacity="0.38"/>
<path d="M678.6,206.1 L709.1,205.5" stroke="#50c8e8" stroke-width="1.9" stroke-opacity="0.47"/>
<path d="M685.8,196.6 L736.5,195.6" stroke="#50c8e8" stroke-width="2.2" stroke-opacity="0.48"/>
<path d="M695.7,214.0 L739.7,214.1" stroke="#50c8e8" stroke-width="1.6" stroke-opacity="0.49"/>
<path d="M665.4,241.9 L705.6,241.5" stroke="#50c8e8" stroke-width="1.7" stroke-opacity="0.50"/>
<path d="M676.4,243.9 L742.5,245.3" stroke="#50c8e8" stroke-width="1.1" stroke-opacity="0.38"/>
<path d="M659.2,255.0 L726.3,254.7" stroke="#50c8e8" stroke-width="1.9" stroke-opacity="0.34"/>
<path d="M681.4,224.2 L709.5,224.2" stroke="#50c8e8" stroke-width="1.0" stroke-opacity="0.28"/>
<path d="M685.8,255.8 L745.7,256.3" stroke="#50c8e8" stroke-width="2.2" stroke-opacity="0.47"/>
<path d="M696.6,249.7 L723.1,249.3" stroke="#50c8e8" stroke-width="2.0" stroke-opacity="0.32"/>
<path d="M670.3,225.0 L736.9,224.0" stroke="#50c8e8" stroke-width="1.8" stroke-opacity="0.36"/>
<path d="M669.7,254.5 L707.7,254.8" stroke="#50c8e8" stroke-width="1.2" stroke-opacity="0.40"/>
<path d="M664.9,254.8 L713.0,254.7" stroke="#50c8e8" stroke-width="1.8" stroke-opacity="0.29"/>
<path d="M671.1,194.9 L702.0,194.7" stroke="#50c8e8" stroke-width="1.4" stroke-opacity="0.31"/>
<path d="M691.0,192.3 L740.6,192.7" stroke="#50c8e8" stroke-width="1.9" stroke-opacity="0.41"/>
<path d="M670.0,200.5 L727.0,200.6" stroke="#50c8e8" stroke-width="1.9" stroke-opacity="0.37"/>
<path d="M665.3,208.4 L701.2,208.4" stroke="#50c8e8" stroke-width="1.6" stroke-opacity="0.40"/>
<path d="M699.5,186.9 L740.4,186.2" stroke="#50c8e8" stroke-width="1.8" stroke-opacity="0.37"/>
<path d="M659.8,206.5 L729.3,207.6" stroke="#50c8e8" stroke-width="1.2" stroke-opacity="0.27"/>
<path d="M655.2,248.7 L700.0,248.4" stroke="#50c8e8" stroke-width="1.7" stroke-opacity="0.43"/>
<path d="M710.4,193.9 L745.5,194.4" stroke="#50c8e8" stroke-width="1.2" stroke-opacity="0.33"/>
<path d="M677.0,211.4 L732.4,212.5" stroke="#50c8e8" stroke-width="2.2" stroke-opacity="0.38"/>
<path d="M680.5,239.2 L739.0,239.1" stroke="#50c8e8" stroke-width="2.2" stroke-opacity="0.43"/>
<path d="M708.8,251.9 L739.6,250.9" stroke="#50c8e8" stroke-width="2.1" stroke-opacity="0.40"/>
<path d="M667.8,221.8 L736.2,221.5" stroke="#50c8e8" stroke-width="2.2" stroke-opacity="0.47"/>
<path d="M676.4,229.7 L718.5,229.6" stroke="#50c8e8" stroke-width="2.1" stroke-opacity="0.32"/>
<path d="M669.7,214.1 L719.7,213.6" stroke="#50c8e8" stroke-width="2.2" stroke-opacity="0.46"/>
<path d="M661.4,222.0 L706.4,221.4" stroke="#50c8e8" stroke-width="1.2" stroke-opacity="0.39"/>
<path d="M713.7,227.9 L742.6,227.6" stroke="#50c8e8" stroke-width="2.3" stroke-opacity="0.46"/>
<path d="M678.4,255.0 L712.6,255.9" stroke="#50c8e8" stroke-width="1.0" stroke-opacity="0.26"/>
<path d="M696.7,226.7 L744.1,227.5" stroke="#50c8e8" stroke-width="1.8" stroke-opacity="0.50"/>
<path d="M684.7,223.3 L733.0,222.9" stroke="#50c8e8" stroke-width="1.5" stroke-opacity="0.40"/>
<path d="M671.2,211.3 L738.8,211.4" stroke="#50c8e8" stroke-width="1.1" stroke-opacity="0.34"/>
<path d="M678.3,214.9 L728.5,216.0" stroke="#50c8e8" stroke-width="2.4" stroke-opacity="0.37"/>
<path d="M694.7,217.7 L747.8,217.2" stroke="#50c8e8" stroke-width="1.8" stroke-opacity="0.45"/>
<path d="M707.5,198.3 L746.8,199.1" stroke="#50c8e8" stroke-width="1.8" stroke-opacity="0.28"/>
<path d="M684.8,250.4 L740.8,252.1" stroke="#50c8e8" stroke-width="2.3" stroke-opacity="0.36"/>
<path d="M681.6,197.3 L719.7,197.3" stroke="#50c8e8" stroke-width="1.3" stroke-opacity="0.30"/>
<path d="M667.5,231.4 L719.6,232.9" stroke="#50c8e8" stroke-width="2.0" stroke-opacity="0.26"/>
<path d="M662.9,215.6 L723.4,216.3" stroke="#50c8e8" stroke-width="1.0" stroke-opacity="0.33"/>
<path d="M681.8,246.6 L733.2,245.7" stroke="#50c8e8" stroke-width="1.7" stroke-opacity="0.39"/>
<path d="M674.3,205.2 L728.4,206.8" stroke="#50c8e8" stroke-width="1.9" stroke-opacity="0.35"/>
<path d="M700.6,194.7 L732.6,194.0" stroke="#50c8e8" stroke-width="1.2" stroke-opacity="0.29"/>
<path d="M672.8,223.6 L734.9,224.8" stroke="#50c8e8" stroke-width="1.1" stroke-opacity="0.25"/>
<path d="M692.4,241.5 L731.9,241.1" stroke="#50c8e8" stroke-width="1.3" stroke-opacity="0.32"/>
<path d="M669.7,193.2 L735.3,192.6" stroke="#50c8e8" stroke-width="1.7" stroke-opacity="0.35"/>
<path d="M670.0,189.9 L735.1,191.7" stroke="#50c8e8" stroke-width="1.7" stroke-opacity="0.41"/>
<path d="M716.2,204.0 L743.2,204.5" stroke="#50c8e8" stroke-width="1.5" stroke-opacity="0.47"/>
<path d="M686.5,244.7 L725.2,245.8" stroke="#50c8e8" stroke-width="1.7" stroke-opacity="0.49"/>
<path d="M690.4,203.5 L732.9,202.8" stroke="#50c8e8" stroke-width="1.5" stroke-opacity="0.47"/>
<path d="M660.6,220.9 L721.3,219.7" stroke="#50c8e8" stroke-width="1.5" stroke-opacity="0.30"/>
<path d="M684.5,256.0 L722.6,255.1" stroke="#50c8e8" stroke-width="1.8" stroke-opacity="0.35"/>
<path d="M660.4,215.0 L688.3,215.6" stroke="#50c8e8" stroke-width="1.5" stroke-opacity="0.31"/>
<path d="M665.8,199.8 L703.6,198.7" stroke="#50c8e8" stroke-width="2.0" stroke-opacity="0.34"/>
<path d="M655.6,197.2 L712.4,196.4" stroke="#50c8e8" stroke-width="2.3" stroke-opacity="0.28"/>
<path d="M678.9,217.9 L741.5,216.6" stroke="#50c8e8" stroke-width="1.5" stroke-opacity="0.43"/>
<path d="M657.8,213.1 L725.9,215.0" stroke="#50c8e8" stroke-width="1.8" stroke-opacity="0.31"/>
<path d="M698.0,218.6 L728.9,218.2" stroke="#50c8e8" stroke-width="2.3" stroke-opacity="0.40"/>
<path d="M688.4,212.5 L724.5,211.9" stroke="#50c8e8" stroke-width="2.3" stroke-opacity="0.28"/>
<path d="M664.6,222.9 L714.0,223.7" stroke="#50c8e8" stroke-width="1.6" stroke-opacity="0.41"/>
<path d="M60.0,539.6 L97.1,539.5" stroke="#b89490" stroke-width="5.2" stroke-opacity="0.48"/>
<path d="M83.0,540.5 L113.4,539.0" stroke="#b89490" stroke-width="4.5" stroke-opacity="0.55"/>
<path d="M105.5,539.4 L160.6,540.6" stroke="#b89490" stroke-width="4.3" stroke-opacity="0.48"/>
<path d="M152.9,540.2 L165.0,540.7" stroke="#b89490" stroke-width="4.1" stroke-opacity="0.50"/>
<path d="M63.0,539.6 Q77.2,542.4 91.4,548.9" stroke="#946a62" stroke-width="5.3" stroke-opacity="0.68"/>
<path d="M95.3,538.3 Q114.9,543.8 134.5,549.5" stroke="#946a62" stroke-width="4.1" stroke-opacity="0.53"/>
<path d="M126.2,549.3 L142.0,538.9" stroke="#8a5e56" stroke-width="4.3" stroke-opacity="0.60"/>
<path d="M126.9,538.8 Q145.0,543.7 163.1,548.7" stroke="#946a62" stroke-width="5.4" stroke-opacity="0.71"/>
<path d="M198.0,539.6 L232.9,541.3" stroke="#b89490" stroke-width="5.8" stroke-opacity="0.46"/>
<path d="M226.4,539.8 L262.7,540.1" stroke="#b89490" stroke-width="4.6" stroke-opacity="0.36"/>
<path d="M257.5,538.0 L317.2,541.7" stroke="#b89490" stroke-width="4.8" stroke-opacity="0.38"/>
<path d="M298.6,540.8 L351.7,539.1" stroke="#b89490" stroke-width="5.2" stroke-opacity="0.36"/>
<path d="M341.9,541.4 L381.8,543.2" stroke="#b89490" stroke-width="5.0" stroke-opacity="0.55"/>
<path d="M369.5,540.9 L401.8,539.6" stroke="#b89490" stroke-width="4.4" stroke-opacity="0.43"/>
<path d="M394.8,539.5 L429.5,543.3" stroke="#b89490" stroke-width="4.6" stroke-opacity="0.54"/>
<path d="M425.0,541.2 L466.3,542.4" stroke="#b89490" stroke-width="5.3" stroke-opacity="0.47"/>
<path d="M456.7,543.0 L505.3,542.8" stroke="#b89490" stroke-width="4.9" stroke-opacity="0.49"/>
<path d="M489.3,543.5 L525.0,543.1" stroke="#b89490" stroke-width="5.1" stroke-opacity="0.35"/>
<path d="M203.8,537.9 Q217.9,542.0 232.1,545.3" stroke="#946a62" stroke-width="4.9" stroke-opacity="0.62"/>
<path d="M220.0,549.2 L236.4,537.1" stroke="#8a5e56" stroke-width="3.6" stroke-opacity="0.67"/>
<path d="M245.2,537.9 Q261.0,542.4 276.7,546.9" stroke="#946a62" stroke-width="4.5" stroke-opacity="0.58"/>
<path d="M266.0,548.5 L280.2,539.9" stroke="#8a5e56" stroke-width="3.5" stroke-opacity="0.64"/>
<path d="M283.0,537.7 Q299.1,543.5 315.3,547.0" stroke="#946a62" stroke-width="4.3" stroke-opacity="0.61"/>
<path d="M298.7,549.0 L312.7,540.5" stroke="#8a5e56" stroke-width="4.2" stroke-opacity="0.71"/>
<path d="M311.7,539.3 Q328.0,544.0 344.4,548.2" stroke="#946a62" stroke-width="4.3" stroke-opacity="0.53"/>
<path d="M328.6,550.8 L345.6,538.9" stroke="#8a5e56" stroke-width="3.9" stroke-opacity="0.70"/>
<path d="M348.0,538.9 Q367.6,542.2 387.2,548.0" stroke="#946a62" stroke-width="5.2" stroke-opacity="0.57"/>
<path d="M371.4,550.1 L385.8,541.6" stroke="#8a5e56" stroke-width="3.7" stroke-opacity="0.50"/>
<path d="M389.0,541.3 Q409.2,543.6 429.4,551.1" stroke="#946a62" stroke-width="5.4" stroke-opacity="0.56"/>
<path d="M419.0,551.3 L434.1,540.2" stroke="#8a5e56" stroke-width="4.0" stroke-opacity="0.56"/>
<path d="M416.1,539.5 Q434.3,545.1 452.4,547.8" stroke="#946a62" stroke-width="5.4" stroke-opacity="0.67"/>
<path d="M456.5,540.9 Q476.8,543.2 497.1,551.1" stroke="#946a62" stroke-width="4.3" stroke-opacity="0.57"/>
<path d="M482.2,551.4 L499.8,542.0" stroke="#8a5e56" stroke-width="4.0" stroke-opacity="0.56"/>
<path d="M496.3,542.0 Q513.6,544.7 530.9,549.4" stroke="#946a62" stroke-width="4.8" stroke-opacity="0.70"/>
<path d="M521.5,553.4 L538.3,543.1" stroke="#8a5e56" stroke-width="3.5" stroke-opacity="0.66"/>
<path d="M572.0,536.8 L603.5,537.9" stroke="#b89490" stroke-width="5.1" stroke-opacity="0.43"/>
<path d="M595.4,536.6 L648.7,538.2" stroke="#b89490" stroke-width="4.3" stroke-opacity="0.37"/>
<path d="M628.4,540.1 L687.7,539.4" stroke="#b89490" stroke-width="5.0" stroke-opacity="0.41"/>
<path d="M669.6,540.5 L710.1,542.0" stroke="#b89490" stroke-width="4.7" stroke-opacity="0.39"/>
<path d="M697.9,541.0 L731.6,543.1" stroke="#b89490" stroke-width="4.8" stroke-opacity="0.37"/>
<path d="M719.9,541.7 L761.1,544.1" stroke="#b89490" stroke-width="4.8" stroke-opacity="0.51"/>
<path d="M752.3,541.9 L795.3,543.9" stroke="#b89490" stroke-width="5.4" stroke-opacity="0.43"/>
<path d="M787.1,542.4 L830.9,545.0" stroke="#b89490" stroke-width="5.4" stroke-opacity="0.36"/>
<path d="M818.9,545.2 L861.7,547.4" stroke="#b89490" stroke-width="4.7" stroke-opacity="0.53"/>
<path d="M854.8,544.9 L892.6,545.0" stroke="#b89490" stroke-width="5.6" stroke-opacity="0.48"/>
<path d="M887.6,546.4 L912.0,547.9" stroke="#b89490" stroke-width="5.1" stroke-opacity="0.37"/>
<path d="M572.0,537.3 Q587.1,539.1 602.1,544.4" stroke="#946a62" stroke-width="4.1" stroke-opacity="0.72"/>
<path d="M585.8,548.5 L598.5,538.5" stroke="#8a5e56" stroke-width="4.5" stroke-opacity="0.71"/>
<path d="M613.3,538.5 Q631.3,540.2 649.4,548.2" stroke="#946a62" stroke-width="4.8" stroke-opacity="0.68"/>
<path d="M639.0,549.9 L651.4,538.1" stroke="#8a5e56" stroke-width="4.3" stroke-opacity="0.71"/>
<path d="M643.2,537.6 Q658.4,542.7 673.7,548.9" stroke="#946a62" stroke-width="4.6" stroke-opacity="0.59"/>
<path d="M660.6,549.1 L673.1,539.4" stroke="#8a5e56" stroke-width="5.0" stroke-opacity="0.60"/>
<path d="M681.1,540.0 Q696.2,544.2 711.4,549.6" stroke="#946a62" stroke-width="4.8" stroke-opacity="0.62"/>
<path d="M704.2,549.3 L716.8,541.1" stroke="#8a5e56" stroke-width="4.9" stroke-opacity="0.63"/>
<path d="M714.2,539.3 Q733.2,543.6 752.3,548.6" stroke="#946a62" stroke-width="4.9" stroke-opacity="0.58"/>
<path d="M740.5,552.6 L754.3,541.9" stroke="#8a5e56" stroke-width="4.1" stroke-opacity="0.71"/>
<path d="M749.6,540.4 Q765.4,543.8 781.3,550.6" stroke="#946a62" stroke-width="4.6" stroke-opacity="0.54"/>
<path d="M767.4,553.0 L780.3,543.7" stroke="#8a5e56" stroke-width="4.2" stroke-opacity="0.65"/>
<path d="M783.1,543.1 Q802.9,546.3 822.7,551.5" stroke="#946a62" stroke-width="5.1" stroke-opacity="0.71"/>
<path d="M811.1,554.5 L825.9,542.3" stroke="#8a5e56" stroke-width="3.9" stroke-opacity="0.68"/>
<path d="M819.9,544.1 Q840.6,546.3 861.3,551.3" stroke="#946a62" stroke-width="4.4" stroke-opacity="0.55"/>
<path d="M850.9,555.3 L864.5,545.2" stroke="#8a5e56" stroke-width="4.0" stroke-opacity="0.61"/>
<path d="M857.5,542.8 Q872.1,549.1 886.7,552.7" stroke="#946a62" stroke-width="4.5" stroke-opacity="0.65"/>
<path d="M870.7,554.6 L885.4,545.0" stroke="#8a5e56" stroke-width="3.8" stroke-opacity="0.65"/></g>
<g fill="none" stroke-linecap="round" stroke-linejoin="round"><path d="M54,531.5 L110,531.8 L166,532" stroke="#50101c" stroke-width="5.50" />
<path d="M193.5,531 L527.5,533" stroke="#5a0f1e" stroke-width="6.20" />
<path d="M583,531.4 L924,539" stroke="#6a1226" stroke-width="6.80" />
<path d="M187.7,514.1 C176,508 165,499 161.5,487 C159,477 160,468 165,462 C171,455 181,451 195,449 C210,446 228,446 239,451 C247,456 251,466 251.5,477 C252,490 249,500 243.9,505.5 C237,512 225,516 214,518 C205,519.5 198,519.5 194.5,518.5" stroke="#0e0e0e" stroke-width="3.00" />
<path d="M694,174.6 C715,172 737,182 751,198 C761,215 760,232 752,248 C744,259 726,267 702,268 C682,269 660,258 648,245 C639,232 639,216 646,206 C654,193 672,180 694,174.6 Z" stroke="#0e0e0e" stroke-width="3.00" />
<path d="M202.4,498 C195,506 189,520 182,538 C176,553 171,565 172.5,581" stroke="#2440c0" stroke-width="1.80" />
<path d="M291.3,433.3 C282,434 272,437 261.5,442" stroke="#0e0e0e" stroke-width="2.20" />
<path d="M254.5,445 L261.5,437.5 L267.5,445 Z" stroke="#0e0e0e" stroke-width="3.20" />
<path d="M656,79.7 C645,74 625,74 611,98.5" stroke="#18482e" stroke-width="1.60" />
<path d="M611,83 L611,98.7 L623,94" stroke="#18482e" stroke-width="2.60" />
<path d="M703.5,290 C706,318 709,340 711.5,363.5" stroke="#1f34bc" stroke-width="2.00" />
<path d="M701.8,286.7 L683.1,311.6 C695,307 710,305 723.2,303.3 L703.5,290" stroke="#1f34bc" stroke-width="2.30" />
<circle cx="701.8" cy="286.7" r="2" fill="#1f34bc"/><circle cx="683.1" cy="311.6" r="2" fill="#1f34bc"/><circle cx="723.2" cy="303.3" r="2" fill="#1f34bc"/>
<path d="M673.2,58 C668,57.5 662.5,62 662,68 C661.8,73 665,75 669.5,74.3 C671.5,74 673.5,72.5 674.6,71.4" stroke="#18482e" stroke-width="2.60" />
<path d="M683.5,64.5 C681,61.5 676.5,63 675.8,68 C675.3,73 679.5,75 683.5,70 M684,61.5 C684.5,66 685,70 685.5,73.6" stroke="#18482e" stroke-width="2.60" />
<path d="M685.5,73.6 C686.5,67 688,61 690,60.5 C691,64 690.8,69 690.6,73.6 M690.8,66 C692,62 694,61 695.7,62 C697,65 697.2,69 697.2,72.2 M697.2,66 C698.5,62 700.5,60 702.2,60.5 C703.5,64 704,69 704.4,74.3" stroke="#18482e" stroke-width="2.60" />
<path d="M706,68 C709,67.5 713,64 715,61 C716,58.5 712,58 709.5,60.5 C707,63 706.5,70 709,72.5 C711,74.5 713.5,74 715.3,73.6" stroke="#18482e" stroke-width="2.60" />
<path d="M749.2,41.6 C749.5,38 748,36.3 746,36.5 C742,37 740.5,44 740.1,50.7 C739.5,58 738.8,68 738.2,75.6 M732.2,63.5 L744.7,60.5" stroke="#18482e" stroke-width="2.60" />
<path d="M748.8,69.2 C750,65 751.5,62 753,61.3 C755.5,63 757,68 757.5,71.8" stroke="#18482e" stroke-width="2.60" />
<path d="M764.3,62 C764.5,66 765,69 765.8,70.3 C767,66 768.5,62 770.4,61.3 C771,64 771,68 771.1,70.3 C772.5,66 775.5,61.5 777.9,61.3 C780.5,62 782.5,68 784,72.6" stroke="#18482e" stroke-width="2.60" />
<path d="M827.7,40 C825,35.5 819,35.5 818.5,40.5 C818,45.5 824,46.5 827.2,42 M827,37.4 C827.5,45 827,55 826.6,62 C823,64.5 812,64 805,63" stroke="#18482e" stroke-width="2.60" />
<path d="M827,48 C829,46 831.5,44.5 834,44" stroke="#18482e" stroke-width="2.60" />
<path d="M839,47.4 C834.5,47.4 834.5,56.8 839,56.8 C843.5,56.8 843.5,47.4 839,47.4 Z" stroke="#18482e" stroke-width="2.60" />
<path d="M848.5,46 C848,52 849,58.5 853.5,58.5 C857,58.5 858.5,53 859,46 L859.4,58.9" stroke="#18482e" stroke-width="2.60" />
<path d="M865.6,46 L865.8,55.8 M865.8,50 C867,46.5 869,45.6 871,45.8 C873.5,46 873.8,50 873.8,55.8" stroke="#18482e" stroke-width="2.60" />
<path d="M888,45.5 C884,42 878,44 878,50.5 C878,56.5 885,57.5 889.5,52 M893.2,27.1 C892,37 890.5,48 890,56.8" stroke="#18482e" stroke-width="2.60" />
<path d="M832.3,65.6 L833.5,83.3" stroke="#18482e" stroke-width="2.60" />
<path d="M837.8,76 C841,75.5 844,74.5 846.5,71 C848,68 845,66.5 842.5,68 C839.5,70 839.5,78 842,80.3 C844.5,81.5 847.5,81 849.5,79.5" stroke="#18482e" stroke-width="2.60" />
<path d="M851,71.3 L857.2,82.5 L862.6,69.7" stroke="#18482e" stroke-width="2.60" />
<path d="M865.9,74.6 C869,74 872,72.5 873.8,70 C875,67.5 872,66.5 869.5,68.5 C866.5,71 866.5,77 869,78.7 C871.5,80 874.5,79.5 876.6,78.2" stroke="#18482e" stroke-width="2.60" />
<path d="M880.7,55 C881.5,63 882.5,72 883,80.3" stroke="#18482e" stroke-width="2.60" />
<path d="M526,116.5 C520,113 512,117 511.3,124 C511,131 516.5,134 521,130.5 C524,128 525.5,122 526.5,116 C527.5,124 528,129 531,130" stroke="#0e0e0e" stroke-width="2.85" />
<path d="M534.4,119.4 C534.2,123 534,127 533.7,130.1 M535.1,110.6 L535.3,111.3" stroke="#0e0e0e" stroke-width="2.85" />
<path d="M542.3,123 C543,127 543.6,130 544.1,133.7 M541.6,123 C543.5,120 545.5,118.3 548,118 C550,117.8 552,118.8 553,120" stroke="#0e0e0e" stroke-width="2.85" />
<path d="M574.2,127.7 C574.5,123 575,118 575.1,113.8 M573.8,106 L574.2,106.6" stroke="#1c30bc" stroke-width="2.70" />
<path d="M578.8,127.7 C579.5,124 580,120 580.7,117.5 C582,115 584,113.8 586.2,113.8 C589.5,114 590.8,116 591,120 C591.2,123 591.5,126 591.8,128.6" stroke="#1c30bc" stroke-width="2.70" />
<path d="M603.7,113.8 C601,113.5 597,114 596.4,116.5 C596,119.5 600,121.5 603,123.5 C605.5,125.5 605,129 602,130 C600.5,130.5 599,130.5 598.2,130.4" stroke="#1c30bc" stroke-width="2.70" />
<path d="M613,116.6 L613,128.6 M614.8,109.2 L615,109.8" stroke="#1c30bc" stroke-width="2.70" />
<path d="M627.7,118 C625,117 621,118 620.4,121.5 C619.5,126 620,130 623,130 C626,130 628,128 628.7,126 M629.6,104.6 C629.3,113 629,122 628.7,130.4" stroke="#1c30bc" stroke-width="2.70" />
<path d="M633.3,119.4 C637,118.5 641,117.5 643.4,115.7 C643.5,112 641,110.5 638.5,111.3 C635,112.5 633.8,118 634.2,123 C634.5,127.5 637,129.5 640,129.5 C643,129.5 646,128 648,126.8" stroke="#1c30bc" stroke-width="2.70" />
<path d="M670.3,126.6 C671,122 671.5,118 672.3,115.3 C673.5,113 675,112 676.3,112 C678.5,112 679.6,113.5 679.8,116 C680,119 680.2,123 680.3,126 M680.3,117 C681.5,114 683,112.6 684.3,112.6 C686,112.6 687,114 687.2,117 C687.4,120 687.5,122 687.6,124.6" stroke="#0e0e0e" stroke-width="2.85" />
<path d="M705,114.6 C703,113 700,112.8 698.3,113.5 C695.5,115 694,118 694.3,121.5 C694.6,125 697,125.8 699.5,124.5 C702,123 703.5,119 705,113.3 C704.5,117 704,121 703.6,125.3" stroke="#0e0e0e" stroke-width="2.85" />
<path d="M708.9,115.3 C710,118.5 711.5,121.5 712.9,124 M718.9,112.6 C716,120 712,128 708.9,135.3" stroke="#0e0e0e" stroke-width="2.85" />
<path d="M744.9,123.3 C745.2,118 745.6,113 746,109.5 M745.8,113 C747,110 748.5,108.4 750.6,108.4 C753,108.6 754.6,110 755,112.5 C755.2,115.5 755.2,119 755.2,122.1" stroke="#0e0e0e" stroke-width="2.85" />
<path d="M765.5,111.8 C762,111.8 761.2,116 761.5,118.5 C761.8,121 763,122.1 764.6,122.1 C767,122.1 768.5,119.5 768.5,116.5 C768.5,113.5 767,111.8 765.5,111.8 Z" stroke="#0e0e0e" stroke-width="2.85" />
<path d="M773.6,111.8 C774,115 774.8,118.5 775.9,121 C777.5,120 780.5,116 782.8,115.2 C783.5,117 784.8,120 786.2,121 C788.5,119.5 790.5,115 791.9,111.8" stroke="#0e0e0e" stroke-width="2.85" />
<path d="M816,94.6 C816.5,104 817,114 817.2,122.1 M812.6,109.8 C815,109.5 817,109.5 818.5,109.8 M817.2,111.5 C821,110.8 824.5,113 824.5,117 C824.5,120.5 821,122.8 817.2,122" stroke="#0e0e0e" stroke-width="2.85" />
<path d="M829.8,115.2 C832.5,114.5 835.5,113.8 837.8,113 C838.5,110 837.5,107.5 835.5,107.2 C831.5,107 829,110 828.7,113.5 C828.3,118 829.5,122.2 833.2,122.7 C837.5,123 842,120 845.9,117.5" stroke="#0e0e0e" stroke-width="2.85" />
<path d="M520.8,163.1 C517.5,162.3 513.5,162.8 511.5,163.8 C508.5,165.3 507.5,168 508.2,169.8 C509.5,171.2 513,171 516,170.6 C519,170.2 521,169.6 522.3,169.2 M521.5,150.8 C521.8,157 522,164 522.3,170.7" stroke="#0e0e0e" stroke-width="2.85" />
<path d="M530,162.3 C530,165 530,168 530,170.7 M532,152 L534,150.8" stroke="#0e0e0e" stroke-width="2.85" />
<path d="M539.2,150 C543,149.2 547,148.8 550,148.5 M543,150 C542.8,158 542.5,167 542.3,175.4 M539.2,163 C543,162 547,161 550,160" stroke="#0e0e0e" stroke-width="2.85" />
<path d="M555.3,148.5 C558.5,148.5 562,148.5 565.3,148.5 M558.4,148.5 C558,157 557.4,166 556.9,175.4 M554.6,162.3 C557.5,161.8 560,161.2 562.3,160.8" stroke="#0e0e0e" stroke-width="2.85" />
<path d="M570.7,163.8 C574,163 577.5,162.2 579.8,161.3 C580.8,159.5 580.6,157.5 578.5,156.8 C575.5,156.2 573,157.5 571.8,159.5 C570.5,161.5 570.3,164.5 571,166.5 C572,168.8 574,169.5 575.7,169.5 C578.5,169.5 581.5,168.7 583.9,167.9" stroke="#0e0e0e" stroke-width="2.85" />
<path d="M584.5,168.5 C585,165 585.5,162 586,158.5 M585.8,162 C587,159.5 589,158 591,158 C592,158 593,158.5 593.7,159.5" stroke="#0e0e0e" stroke-width="2.85" />
<path d="M601,163 C604,162 607,161 609.3,159.7 C609.5,157.5 609,156 607.5,155.6 C605,155.3 603,156.5 602.2,158.5 C601.2,161 601,164 601.5,166 C602.2,167.5 603.5,168 605,167.9 C607.5,167.7 609.5,167.3 610.9,167" stroke="#0e0e0e" stroke-width="2.85" />
<path d="M612.5,167 C612.7,165 613,162.5 613.4,160.5 C614.5,159.3 616,158.9 617.5,158.9 C619.5,159 621,159.8 621.6,161 C622.8,163 623.5,165 624,167" stroke="#0e0e0e" stroke-width="2.85" />
<path d="M633,144.1 C633.5,152 634.2,161 634.7,168.7 M628.1,157.2 C632,156.8 636,156.6 640.4,156.4" stroke="#0e0e0e" stroke-width="2.85" />
<path d="M491.5,179.9 C490.5,178 489,177.5 487.2,177.7 C484,178.2 482.5,180 482.2,182 C481.6,185 481.5,188 481.5,190 C482,196 483,202 483.6,207.2 M476.5,195 C480.5,194.3 485,193.5 489.4,192.8" stroke="#0e0e0e" stroke-width="2.85" />
<path d="M493.7,198.5 C495.5,196 497.5,193.5 499.4,192.8 C500.5,195 501.2,199 501.6,202.8" stroke="#0e0e0e" stroke-width="2.85" />
<path d="M510.2,195.7 C508.5,199 508.5,203 512,203.5 C514.5,203.5 516,200 517,196.5 C519,195.5 521.5,196 521.6,198.5 L521.6,203.6 M521.8,199 C523.5,196.5 526,195 529,195 C532.5,195.5 533.5,199 533.8,204.3" stroke="#0e0e0e" stroke-width="2.85" />
<path d="M562.3,184.1 C562,191 561.8,198 561.7,205 M556.1,187.8 C558.8,187.5 561.5,187.3 564.1,187.2" stroke="#0e0e0e" stroke-width="2.85" />
<path d="M565.4,202 C566,197 566.5,193.5 567.2,191.5 C568.5,191.3 569.5,191.6 570.3,192.1 C572,194.5 573.5,198.5 575.8,200.7 C577.5,201 579,199.5 580.1,198.3" stroke="#0e0e0e" stroke-width="2.85" />
<path d="M584.4,192.8 C587.5,192.3 590.5,191.6 593,190.9 C594.5,189 595,187 594.9,185.4 C594.5,183.3 593,182.6 591.8,182.9 C589.5,183.3 588.5,184.8 588.1,186 C587.2,189 586.8,193 586.9,195.8 C587.5,198.5 589.5,199.7 591.8,199.5 C595.5,199.2 599,197.5 602.2,195.8" stroke="#0e0e0e" stroke-width="2.85" />
<path d="M483.3,217.2 C480.5,217 477,217 474.6,218.1 C472.5,219.3 472.2,221.8 472.8,223.3 C474,225.5 477.5,226 480.7,226.8 C483.5,227.8 484.8,229.5 484.2,231.1 C483.5,233.2 480,234.5 477.2,234.6 C474.8,234.6 472.5,233.8 471.1,232.9" stroke="#0e0e0e" stroke-width="2.85" />
<path d="M487.6,222.4 C487.8,226 488,229.5 488.5,232 C489.5,233 491.5,233.2 492.9,232.9 C495,232 496.5,227 497.2,222.4 C497.5,226 497.8,229.5 498.1,232.9" stroke="#0e0e0e" stroke-width="2.85" />
<path d="M503.3,225 C503.7,228 504,231 504.2,233.7 M504.2,224.2 C506,222.3 508,221 510.3,220.7 C511.5,220.3 512.7,220 513.8,219.8" stroke="#0e0e0e" stroke-width="2.85" />
<path d="M516.4,219.8 C516.8,223.5 517.1,227.5 517.3,231.1 M517.3,220.7 C519.5,219.5 522.5,218.5 525.1,218.1" stroke="#0e0e0e" stroke-width="2.85" />
<path d="M531.2,220.7 C529.5,221.3 528,223 527.7,225 C527.3,228 528,231.2 529.5,232 C531.5,232.8 534,231.5 534.7,229.4 C535.5,226.5 535.2,223 533.8,221.6 C533,220.8 532,220.6 531.2,220.7" stroke="#0e0e0e" stroke-width="2.85" />
<path d="M542.2,220.5 C542.5,223.5 542.8,226.5 543.2,228.7 C544.2,230.2 545.8,230.8 547.3,230.7 C549.5,230.5 551.5,229.2 552.4,227.7 C553,225 553.2,222.5 553.4,220.5 C553.8,224 554.2,227.5 554.5,230.7" stroke="#0e0e0e" stroke-width="2.85" />
<path d="M560.6,229.7 C560.9,226.5 561.2,223.5 561.6,220.5 C562.7,219 564,218.4 565.7,218.4 C567.5,218.4 569,219.2 569.8,220.5 C570.4,223.5 570.7,226.5 570.9,229.7" stroke="#0e0e0e" stroke-width="2.85" />
<path d="M582.1,219.5 C579.5,219.5 577,220.5 576,222.5 C575.3,224.5 575.8,227.5 577,228.7 C579,229.5 581.5,228.2 583.2,226.6 M587.3,206.1 C586.5,213 585.8,220 585.2,226.6" stroke="#0e0e0e" stroke-width="2.85" />
<path d="M594.4,219.5 C594,222 593.6,224.5 593.4,226.6 M595.5,211 L595.7,211.6" stroke="#0e0e0e" stroke-width="2.85" />
<path d="M600.6,227.7 C600.9,225 601.2,222 601.6,219.5 C603,217 604.8,215.6 606.7,215.4 C608.7,215.5 610.3,216.7 610.8,218.4 C611.4,221 611.6,224 611.8,226.6" stroke="#0e0e0e" stroke-width="2.85" />
<path d="M625.2,215.4 C622.5,215 619,215.2 617,216.4 C615.5,218 615.3,221.5 616,223.6 C617.3,225 619.5,225 621.1,224.6 C623,223.5 624.5,222 625.2,220.5 M625.2,214.3 C625.7,223 626,232 626.2,241 C625.5,242.5 624.5,243 623.1,243 C621.5,243 619.5,243 618,243" stroke="#0e0e0e" stroke-width="2.85" />
<path d="M526.5,246.1 C524.5,245.2 522.5,244.8 520.4,244.9 C516.5,245.5 513.5,248.5 512.4,251.7 C511.5,254.5 511.5,257.5 512.4,259 C513.5,260.3 515.5,260.6 517.3,260.3 C520.5,259.5 524,257.5 525.9,255.4 C526.8,253 527.2,250.5 527.1,248.6 M526.5,247.4 C526.2,251 525.8,254.5 525.3,257.8 C526.5,258.5 528,258.5 529.5,258" stroke="#0e0e0e" stroke-width="2.85" />
<path d="M535.1,248.6 C534.9,252 534.7,255.5 534.5,259 M535.7,239.2 L535.9,239.8" stroke="#0e0e0e" stroke-width="2.85" />
<path d="M543.1,251 C543.1,254 543.1,257.3 543.1,260.3 M542.5,250.4 C544.2,248 546,246 548,245.5 C550,245.2 551.7,246 552.3,247.4 C552.7,248.2 552.9,249 552.9,249.8" stroke="#0e0e0e" stroke-width="2.85" />
<path d="M555.2,259.5 L555.6,259.9" stroke="#0e0e0e" stroke-width="3.40" />
<path d="M314.1,374.6 C311,375 307.5,379 306.8,382.5 C306.2,385.5 307,387.5 309.5,387.2 C312.5,386.8 315.5,383.5 316.2,380.5 C316.8,377.5 316,374.6 314.1,374.6 Z" stroke="#0e0e0e" stroke-width="2.80" />
<path d="M320.9,385.7 C320.9,383.5 320.9,381.5 320.9,379.5 C321.5,378.5 322.5,378.2 323.4,378.3 C325,378.3 326.2,378.7 326.6,379.5 C327.2,381.8 327.5,384.5 327.7,386.9" stroke="#0e0e0e" stroke-width="2.80" />
<path d="M336.9,377.1 C335.5,377.5 334.2,378.8 333.8,380.3 C333.4,382.5 333.8,385 335,386.3 C336,387 337.5,387 338.7,386.9" stroke="#0e0e0e" stroke-width="2.80" />
<path d="M342.4,378.9 C344.5,378.8 347,378.6 349.2,378.3 C350.8,377 351.8,375.3 351.6,374 C351.2,372.5 349.8,372 348.6,372.1 C346.8,372.3 345.5,373.2 344.9,374.2 C344.2,376.5 344,379.5 344.3,382 C344.8,384 345.7,385 346.7,385.1 C348.3,385.2 349.8,384.8 351,384.4" stroke="#0e0e0e" stroke-width="2.80" />
<path d="M318.1,403.1 C316,402.7 313.5,403.5 311.1,404.8 C310.2,405.8 310.8,407.5 311.9,408.4 C313.5,409.8 316,410.5 317.3,411.5 C318.7,412.8 319.2,414.5 318.8,416.1 C318.3,418.3 316.7,420.3 315,420.7 C313.3,420.8 312,419.8 311.1,418.4" stroke="#0e0e0e" stroke-width="2.80" />
<path d="M323.4,412.3 C325.8,411.6 328.2,410.8 330.4,410 C331,408.5 331,407 330.4,406.1 C329.4,405.5 327.6,405.5 326.5,406.1 C324.5,407 323.6,408.5 323.4,410 C323.2,412.5 323.5,414.8 324.2,416.1 C325,417.8 326.2,418.4 327.3,418.4 C328.7,418.4 330,418 331.1,417.7" stroke="#0e0e0e" stroke-width="2.80" />
<path d="M339.6,408.4 C338,408.5 336,409.2 335,410 C334.2,411.8 334,413.8 334.2,415.4 C334.8,417 335.8,417.8 337.3,417.7 C338.7,417.3 339.8,416 340.4,414.6 M340.4,407.7 C340.6,410.8 340.9,413.8 341.1,416.9" stroke="#0e0e0e" stroke-width="2.80" />
<path d="M347.3,399.2 C347,406 346.7,413.5 346.5,420.7" stroke="#0e0e0e" stroke-width="2.80" />
<path d="M351.9,410 C354.2,409.6 356.6,409 358.8,408.4 C359.3,407 359.3,405.5 358.8,404.6 C358,403.8 356.8,403.6 355.7,403.8 C354.5,404.3 353.7,405.5 353.4,406.9 C353.2,409.5 353.6,412.5 354.2,414.6 C355,416.3 356,416.9 357.3,416.9 C359,416.8 360.6,416 361.9,415.4" stroke="#0e0e0e" stroke-width="2.80" />
<path d="M371.9,406.9 C370,406.5 368,406.8 366.5,407.7 C365.2,409 364.8,411.3 365,413.1 C365.5,415 366.3,416 367.3,416.1 C369.3,416.3 371.3,415.5 372.6,414.6 M375,393.1 C374.8,401 374.5,409 374.2,416.9" stroke="#0e0e0e" stroke-width="2.80" />
<path d="M308.3,452.3 C309,449 310,445.5 311.1,442.6 C312.2,441.5 313.8,441 315.2,441.2 C317,441.5 318.5,442.5 319.4,444 C319.5,446.5 319.5,448.5 319.4,450.9" stroke="#0e0e0e" stroke-width="2.80" />
<path d="M328.4,443.3 C326,443.3 324.5,446 324.5,448.3 C324.5,450.8 326.2,452.9 328.4,452.9 C330.6,452.9 332.3,450.5 332.3,448.1 C332.3,445.5 330.6,443.3 328.4,443.3 Z" stroke="#0e0e0e" stroke-width="2.80" />
<path d="M349.8,450.9 C350.2,447.5 350.7,444 351.2,441.2 C352.3,440 353.8,439.6 355.3,439.8 C357,440 358.6,440.5 359.5,441.2 C359.6,444.5 359.6,448 359.5,450.9 M360.9,441.2 C362,440.2 363.5,439.7 365,439.8 C366.5,440.2 367.5,442 367.8,444 C368.2,446.5 368.8,449 369.2,450.9" stroke="#0e0e0e" stroke-width="2.80" />
<path d="M371.9,441.2 C371.9,444.5 371.9,448 371.9,451.6 M371.7,432.9 L372.1,433.3" stroke="#0e0e0e" stroke-width="2.80" />
<path d="M377.5,439.8 C380.5,443.5 384,447.5 387.1,450.9 M385.8,438.4 C383.5,443 381,448 378.8,452.3" stroke="#0e0e0e" stroke-width="2.80" />
<path d="M396.8,441.2 C397.2,444.5 397.7,448 398.2,450.9 M396.6,431.5 L397,431.9" stroke="#0e0e0e" stroke-width="2.80" />
<path d="M402.3,450.9 C402.5,447.5 402.7,444 403,441.2 C404.5,440.2 406.2,439.7 407.9,439.8 C409.7,440 411.2,441.2 412,442.6 C412.3,445.5 412.5,448.5 412.7,450.9" stroke="#0e0e0e" stroke-width="2.80" />
<path d="M425.9,439.8 C423.5,439.4 420.8,439.3 418.9,439.8 C417,441 416,443.8 416.2,446.7 C416.6,449.5 418.5,451 420.3,450.9 C422.5,450.5 424.8,448.8 425.9,446.7 M425.9,437.1 C426.4,445.5 426.9,454 427.2,462 C426,464 423.8,464.9 421.7,464.7 C419.5,464.5 417.5,464 416.2,463.3" stroke="#0e0e0e" stroke-width="2.80" />
<path d="M294.5,473.5 C292,473.6 290,475 289.7,477 C289.4,479.5 290.2,481.6 292,481.8 C294.5,481.8 296.5,479.5 296.8,477 C297,475 296,473.5 294.5,473.5 Z" stroke="#0e0e0e" stroke-width="2.80" />
<path d="M298.5,473.5 C300,472.8 301.5,472.5 302.5,473 C302,475.5 300.5,478 299,480.4 C302,481.3 305.5,482.3 309,482.7" stroke="#0e0e0e" stroke-width="2.80" />
<path d="M330.6,462.2 C331,468.5 331.4,474.5 331.8,480.4 M331.8,474.8 C333,472.8 334.7,471.5 336.3,471.3 C338,471.2 339.3,471.8 339.7,472.5 C340.3,475.5 340.7,479.5 340.9,482.7" stroke="#0e0e0e" stroke-width="2.80" />
<path d="M345.4,474.8 C348,474.5 350.8,474.2 353.4,473.6 C353.6,471.8 353.2,469.8 352.3,469.1 C350.8,468.5 349,468.6 347.7,469.1 C346,469.8 344.8,471 344.3,472.5 C344,474.5 344.4,476.8 345.4,478.2 C346.6,479.4 348.3,479.6 350,479.3 C351.6,479 353.2,478.6 354.5,478.2" stroke="#0e0e0e" stroke-width="2.80" />
<path d="M364.8,472.5 C362.5,472.3 359.8,472.6 358,473.6 C356.8,474.8 356.4,476.8 356.8,478.2 C357.5,479.3 358.8,479.6 360.2,479.3 C362.2,479 363.8,478 364.8,477 M364.8,471.3 C365.2,474 365.5,476.8 365.9,479.3 C366.8,479.6 367.8,479.5 368.5,479.2" stroke="#0e0e0e" stroke-width="2.80" />
<path d="M377.3,461.1 C377.3,467 377.3,473 377.3,479.3 M368.2,467.9 C373,467.3 378,466.7 383,466.2" stroke="#0e0e0e" stroke-width="2.80" />
<path d="M396.4,473 C399,472.8 401.6,472.4 404.1,471.8 C404.6,470 404.6,467.8 404.1,466.6 C402.5,466 400.5,466 399,466.6 C397.2,467.5 395.8,469 395.1,470.5 C394.8,472.8 395.4,475.4 396.4,476.9 C397.8,478.7 399.6,479.5 401.5,479.4 C403.8,479.2 406,478 407.9,476.9" stroke="#0e0e0e" stroke-width="2.80" />
<path d="M407.9,467.9 C411.3,471.3 414.8,474.8 418.2,478.2 M416.9,467.9 C414.3,473 411.8,478.2 409.2,483.3" stroke="#0e0e0e" stroke-width="2.80" />
<path d="M427.1,469.2 C425.2,469.5 423,470.5 422,471.8 C421.3,474 421.8,477.5 423.3,479.4 C424.8,480 426.7,479.8 428.4,479.4" stroke="#0e0e0e" stroke-width="2.80" />
<path d="M434.8,455.1 C435.3,463 435.7,471 436.1,479.4 M436.1,473 C437.2,471 438.5,469.7 439.9,469.2 C441.5,469.1 443,469.6 443.8,470.5 C443.9,473.5 443.9,476.5 443.8,479.4" stroke="#0e0e0e" stroke-width="2.80" />
<path d="M454,470.5 C452,469.5 449.6,469 447.6,469.2 C446,470.5 445.1,473 445.1,475.6 C445.4,478 446.9,479.5 448.9,479.4 C451,479 452.8,478 454,476.9 M454,467.9 C454.4,471.3 454.9,474.8 455.3,478.2" stroke="#0e0e0e" stroke-width="2.80" />
<path d="M459.1,478.2 C459.5,475.5 459.9,473 460.4,470.5 C461.5,468.8 462.8,468 464.3,467.9 C465.8,467.9 467.3,469 468.1,470.5 C468.8,473 469.1,475.5 469.4,478.2" stroke="#0e0e0e" stroke-width="2.80" />
<path d="M482.2,469.2 C479.8,469 476.5,468.8 474.5,469.2 C473.3,470.8 472.9,473.5 473.2,475.6 C474,477 476,477.3 478.3,476.9 C480,476 481.3,474.5 482.2,473 M482.2,467.9 C481.8,475 481.4,482.5 480.9,489.7 C480.6,490.8 480.1,491.7 479.6,492.3" stroke="#0e0e0e" stroke-width="2.80" />
<path d="M488.6,473 C491.6,472.4 494.6,471.4 497.6,470.5 C497.8,468.8 497.3,466.5 496.3,465.4 C494.5,464.9 491.5,464.9 489.9,465.4 C488.5,466.3 487.6,467.8 487.3,469.2 C487.2,471.5 487.8,474 488.6,475.6 C489.5,477.3 490.9,478.3 492.4,478.2 C494.6,478 496.8,477.5 498.8,476.9" stroke="#0e0e0e" stroke-width="2.80" />
<path d="M510.4,469.2 C508,467.8 505,466.8 502.7,466.6 C501.5,468.5 501.1,472 501.4,474.3 C502.3,476.3 503.6,477 505.2,476.9 C507.3,476.5 509.2,475.5 510.4,474.3 M510.4,453.8 C510.4,461.5 510.4,469.2 510.4,476.9" stroke="#0e0e0e" stroke-width="2.80" />
<path d="M279.9,498.5 C280.2,501.5 280.6,504.5 281.1,507.1 C283,505.8 285.3,503.5 287.3,502.2 C288.8,503.8 290.5,505.8 292.2,507.1 C293.8,504.3 295,501.3 295.9,498.5" stroke="#0e0e0e" stroke-width="2.80" />
<path d="M304.5,499.8 C304.5,502.2 304.5,504.7 304.5,507.1 M305.6,492.2 L306,492.6" stroke="#0e0e0e" stroke-width="2.80" />
<path d="M316.8,491.2 C317.2,497.5 317.6,503.5 318,509.6 M313.1,494.8 C316,494.8 319,494.8 321.7,494.8" stroke="#0e0e0e" stroke-width="2.80" />
<path d="M318,503.4 C319.5,501.2 321.2,499.2 323,498.5 C324.5,498.3 325.8,498.8 326.7,499.8 C328,501.5 329.2,503.2 330.4,504.7 C332,506 333.7,506.8 335.3,507.1" stroke="#0e0e0e" stroke-width="2.80" />
<path d="M363.8,496.5 C360,496.6 355.5,499 354,502 C352.8,504.8 353,508 355.5,508.8 C358.5,509.5 362.5,507.5 364.8,504.5 C366.8,502 367.2,498 365.5,497 C365,496.7 364.4,496.5 363.8,496.5 Z" stroke="#0e0e0e" stroke-width="2.80" />
<path d="M369.7,498.5 C369.7,501.3 369.7,504.3 369.7,507.1 C370.7,508.2 372,508.6 373.4,508.4 C375.5,507.5 377.3,503.5 378.3,499.8 C378.6,502.7 379,505.6 379.5,508.4" stroke="#0e0e0e" stroke-width="2.80" />
<path d="M389.4,488.7 C389.4,495.3 389.4,501.8 389.4,508.4 M383.2,496.1 C386.9,496.1 390.6,496.1 394.3,496.1" stroke="#0e0e0e" stroke-width="2.80" />
<path d="M404.5,494.0 C402.3,494.1 399.5,494.5 397.8,495.3 C397.5,497.2 398.8,499.5 400.5,500.6 C402.3,501.6 404.7,503.0 405.8,504.6 C405.7,506.5 403.2,508.3 400.5,508.6 C398.7,508.6 396.5,508.0 395.2,507.3" stroke="#0e0e0e" stroke-width="2.80" />
<path d="M414.3,498 C414.3,501.1 414.3,504.2 414.3,507.3 M415.4,491.1 L415.8,491.5" stroke="#0e0e0e" stroke-width="2.80" />
<path d="M427.6,496.6 C425.5,496.8 422.8,497.3 421,498 C419.3,499.8 418.3,502.4 418.3,504.6 C418.8,507 420.5,508.6 422.3,508.6 C424.8,508.3 427.5,507.2 429,506 M430.3,486 C430.3,493.5 430.3,501 430.3,508.6" stroke="#0e0e0e" stroke-width="2.80" />
<path d="M435.6,499.3 C438.3,498.6 441,497.6 443.6,496.6 C443.8,494.8 443.4,492.4 442.3,491.3 C440.5,490.8 438.5,490.8 436.9,491.3 C435.5,492.5 434.6,494.5 434.3,496.6 C434.3,499.5 434.8,502.5 435.6,504.6 C436.8,506.5 438.2,507.4 439.6,507.3 C441.5,507.2 443.5,506.6 444.9,506" stroke="#0e0e0e" stroke-width="2.80" />
<path d="M475.5,495.3 C472.8,495.4 469.5,495.8 467.6,496.6 C465.9,498.4 464.9,501 464.9,503.3 C465.5,505 467.2,506.1 468.9,506 C471.8,505.8 475,504.6 476.9,503.3 M476.9,495.3 C477.3,498.8 477.8,502.4 478.2,506 C480,506.6 482.3,506 483.5,503 C483.7,501 483.8,498.8 484,496.6 C484.3,499.7 484.7,502.8 485.2,506" stroke="#0e0e0e" stroke-width="2.80" />
<path d="M495.5,499.3 C496.4,502.4 497.3,505.5 498.2,508.6 M494.2,498 C497.5,496.8 501,495.8 504.8,495.3 C506.8,495.3 508.7,495.8 510.2,496.6" stroke="#0e0e0e" stroke-width="2.80" />
<path d="M150.8,590.7 C148.5,590.5 145.5,591 143.6,592.1 C141.5,594.5 140.5,598 140.7,600.7 C141.5,603.5 143,605 145,605 C148,604.8 150.8,603.5 152.2,602.1 M153.7,590.7 C154.2,595 154.7,599.3 155.1,603.6 C156.5,604.8 158,605.2 159.4,605 C160.8,601 161.6,596.5 162.3,592.1 C162.8,596 163.3,600 163.7,603.6" stroke="#1f2fa6" stroke-width="2.70" />
<path d="M169.4,592.1 C170.8,596.5 172.2,600.8 173.7,605 C175.5,600.5 177.3,595.5 179.5,592.1" stroke="#1f2fa6" stroke-width="2.70" />
<path d="M199.6,589.2 C200,594 200.6,599 201,603.6 M200.8,580.4 L201.2,580.9" stroke="#1f2fa6" stroke-width="2.70" />
<path d="M206.7,603.6 C206.7,599.8 206.7,596 206.7,592.1 C208,591 209.5,590.6 211,590.7 C213.3,590.9 215.5,592 216.8,593.5 C217.5,597 217.9,600.5 218.2,603.6" stroke="#1f2fa6" stroke-width="2.70" />
<path d="M230,590 C228.5,588.8 224.5,588.8 222.8,590.5 C221.8,592.5 223.5,595.2 225.4,596.4 C227.5,597.5 230,598.3 231.1,599.3 C231,601.5 229,603.2 226.8,603.6 C225,603.6 222.8,603 221.1,602.1" stroke="#1f2fa6" stroke-width="2.70" />
<path d="M241.2,590.7 C241.2,594.5 241.2,598.3 241.2,602.1 M241,583.3 L241.4,583.8" stroke="#1f2fa6" stroke-width="2.70" />
<path d="M254.5,594 C252,592.6 248.5,592.6 246.5,593.8 C244.8,595.8 244.6,598.5 245.2,600.9 C246,603 248,604 250,603.8 C252.5,603.3 255,602 256.5,600.3 M258.4,577.7 C258,586.3 257.5,595 257,603.6" stroke="#1f2fa6" stroke-width="2.70" />
<path d="M261.3,595 C264.2,594.2 267.1,593.1 269.9,592.1 C270.2,590 269.6,587.5 268.4,586.3 C266.6,585.8 264.4,585.8 262.7,586.3 C261,587.8 260,590 259.8,592.1 C259.8,594.6 260.3,597.2 261.3,599.3 C262.5,601.2 264,602.2 265.6,602.1 C267.6,602 269.6,601.4 271.3,600.7" stroke="#1f2fa6" stroke-width="2.70" />
<path d="M295,569 C290.5,572 290,577.5 294,579.3 L299.3,580.4 C294,580 288.5,581.5 289.8,583.5 C291.5,586 296,587.5 299,588.2 M296,595.7 L295.4,603.5" stroke="#1f2fa6" stroke-width="2.70" />
<path d="M133.2,623 C130.5,623.2 127.8,624 126.2,625.4 C124.5,627.5 123.6,630 123.8,632.4 C124.8,634.8 126.5,636 128.5,635.9 C131,635.5 133.3,633.5 134.4,631.2 C135.2,628.8 135.3,626 134.4,624.2 C134.2,623.5 133.7,623.1 133.2,623" stroke="#1f2fa6" stroke-width="2.70" />
<path d="M139,624.2 C139.3,627.7 139.7,631.2 140.2,634.7 C141.5,635.8 143.2,636.1 144.9,635.9 C146.8,633 148,629 148.4,625.4 C148.8,629 149.2,632.5 149.5,635.9" stroke="#1f2fa6" stroke-width="2.70" />
<path d="M157.7,617.2 C158.1,624.2 158.5,631.2 158.9,638.2 M150.7,624.2 C155.8,623.8 160.8,623.4 165.9,623" stroke="#1f2fa6" stroke-width="2.70" />
<path d="M179,626.2 C177,625 172,625 169.8,626.5 C168.8,628.5 171,630.3 172.9,631.2 C175.3,632.3 178.3,633.3 179.9,634.7 C179.3,636.7 177.3,638 175.2,638.2 C172.8,638.2 170.3,637.7 168.2,637" stroke="#1f2fa6" stroke-width="2.70" />
<path d="M190.4,625.4 C190.4,628.9 190.4,632.4 190.4,635.9 M191.4,620.5 L191.8,621" stroke="#1f2fa6" stroke-width="2.70" />
<path d="M204.4,625.4 C202,625.5 199.5,625.9 197.4,626.5 C195.8,628.3 195,630.3 195.1,632.4 C195.8,634.8 197.6,636 199.8,635.9 C202,635.6 204.2,634.7 205.6,633.5 M208,611.3 C208,619.9 208,628.5 208,637" stroke="#1f2fa6" stroke-width="2.70" />
<path d="M211.5,628.9 C214.6,627.8 217.7,626.6 220.8,625.4 C221.3,623.3 220.3,620.7 218.5,619.5 C216.9,619.1 215.2,619.1 213.8,619.5 C212,620.7 210.7,622.3 210.3,624.2 C210.2,627 210.7,630 211.5,632.4 C212.6,634.7 214.3,636 216.1,635.9 C218.5,635.6 220.9,634.6 223.1,633.5" stroke="#1f2fa6" stroke-width="2.70" />
<path d="M256.3,619.2 C253.7,619 250.8,618.9 248.4,619.2 C245.8,621.3 243.6,624.2 242.8,627.1 C242.6,629.3 243,631.5 243.9,632.7 C246.8,632.8 250.3,631.7 252.9,630.4 M256.3,619.2 C256.7,623.7 257.1,628.2 257.4,632.7" stroke="#1f2fa6" stroke-width="2.70" />
<path d="M264.2,622.5 C264.9,626.3 265.6,630 266.4,633.8 M263,624.8 C265.2,622.8 267.5,620.8 269.8,620.3 C271,620.3 272.2,620.8 273.2,621.4" stroke="#1f2fa6" stroke-width="2.70" />
<path d="M273.2,624.8 C277.7,624 282.2,623.3 286.7,622.5 C287,620.8 286.6,618.8 285.6,618 C283.4,617.6 281,617.6 278.8,618 C276.7,619.2 275,620.7 274.3,622.5 C274.2,624.8 274.6,627.3 275.5,629.3 C276.8,631 278.3,631.7 280,631.6 C282.6,631.4 285.3,630.9 287.9,630.4" stroke="#1f2fa6" stroke-width="2.70" />
<path d="M316,605.6 C316.4,612.8 316.8,620 317.2,627.1 M313.8,610.1 C317.2,610.5 320.5,610.9 323.9,611.3" stroke="#1f2fa6" stroke-width="2.70" />
<path d="M317.2,622.5 C318.7,620 320.2,617 321.7,615.8 C322.9,615.6 324.2,616 325.1,616.9 C325.6,618.8 325.9,620.6 326.2,622.5" stroke="#1f2fa6" stroke-width="2.70" />
<path d="M327.3,618 C330.7,617.2 334.1,616.5 337.5,615.8 C337.3,614.5 336.4,613.6 335.2,613.5 C333.6,613.6 332.5,615.2 331.8,616.9 C331.3,618.8 331.3,620.8 331.8,622.5 C332.7,623.5 334,623.8 335.2,623.7 C336.8,623.5 338.3,623 339.7,622.5" stroke="#1f2fa6" stroke-width="2.70" />
<path d="M175.2,655 C174,653.5 170,652.8 167.5,653.6 C165.5,654.6 165.2,656.8 166,658.4 C167.3,660.2 169.5,661.2 171.4,661.9 C173.5,663 175.3,664.6 175.8,666.4 C175.4,668.8 173.6,670.5 171.4,670.8 C169.3,670.5 167.2,669.5 166,668.2" stroke="#1f2fa6" stroke-width="2.70" />
<path d="M193.7,658.4 C191.3,658.2 188.8,658.2 186.5,658.4 C184.7,660.2 183.6,662.5 183.8,664.6 C184.6,666.5 185.9,667.4 187.4,667.3 C189.4,666.8 191.4,665.8 192.8,664.6 M194.5,657.5 C194.8,660.5 195.1,663.5 195.4,666.4 C196.8,667.2 198.2,667.2 199.4,666.6 C199.6,664 199.7,661.6 199.9,659.3 C200.5,662 201,664.7 201.7,667.3 C203.3,667.2 205,664.5 206.1,660.2 C206.7,662.6 207.3,665 207.9,667.3 C209.3,665.5 210.5,662 211.5,659.3" stroke="#1f2fa6" stroke-width="2.70" />
<path d="M211.5,667 C216,665.8 221,664.5 225.7,662.8 C229.5,660.5 233.5,657 235.5,653.9 C235.8,652.5 233.8,651.8 232,652.1 C229.5,653 227.3,655.5 226.6,657.5 C226.6,660.5 227.5,663.8 229.3,666.4 C231.2,668.5 233.3,669.8 235.5,670 C236.5,670 237.5,669.6 238.2,669.1" stroke="#1f2fa6" stroke-width="2.70" />
<path d="M237.5,669.5 L238.5,669.8" stroke="#1f2fa6" stroke-width="3.40" />
<path d="M663.2,399.8 C664,409.5 664.8,419.5 665.6,429.2 C666.3,430 667.1,430.3 668,430.4" stroke="#1f2fa6" stroke-width="2.70" />
<path d="M673.8,415.1 C673.8,418.6 673.8,422.2 673.8,425.7 M673.4,405.3 L674.2,406.3" stroke="#1f2fa6" stroke-width="2.70" />
<path d="M693.9,397.4 C693,395.5 691.5,394 690.3,393.9 C688.8,393.8 687.5,394.2 686.8,395.1 C686,397.5 685.6,399.8 685.6,402.1 C685.6,410.7 685.6,419.4 685.6,428 M678.6,416.3 C682.9,416 687.2,415.5 691.5,415.1" stroke="#1f2fa6" stroke-width="2.70" />
<path d="M700.9,401 C700.9,409.6 700.9,418.3 700.9,426.9 M692.7,416.3 C697.8,416 702.9,415.5 708,415.1" stroke="#1f2fa6" stroke-width="2.70" />
<path d="M731.6,395.1 C732.4,405.7 733.1,416.3 733.9,426.9 M724.5,404.5 C728.8,404.5 733.1,404.5 737.4,404.5" stroke="#1f2fa6" stroke-width="2.70" />
<path d="M733.9,417.4 C735,415.4 736.2,412.5 737.4,411.6 C739,411.6 740.8,412.5 742.2,413.9 C743,415.8 743.7,417.8 744.5,419.8" stroke="#1f2fa6" stroke-width="2.70" />
<path d="M744.5,419.3 C748.5,418 752.5,416.5 756.3,415.1 C758.6,413.8 761,411.3 762.2,409.2 C761.5,408.2 760,407.8 758.6,408 C755.8,408.8 753,410 751.6,411.6 C751.8,413.5 752.2,415.5 752.8,417.4 C754.5,419 756.5,419.8 758.6,419.8 C759.8,419.8 761,419.8 762.2,419.8" stroke="#1f2fa6" stroke-width="2.70" />
<path d="M681.2,445.3 C682.2,453 683.3,460.7 684.3,468.4 M681.5,446 C683.5,444.3 686.2,442.8 688.9,442.3 C690.3,442.8 691.6,444.8 692,446.9 C691.5,449 690.4,451 688.9,451.5 C686.8,451.8 684.8,451.8 682.8,451.5" stroke="#1f2fa6" stroke-width="2.70" />
<path d="M702.7,445.3 C700.7,445.5 698.6,446 696.6,446.9 C695.6,448.3 695,449.8 695,451.5 C696.2,452.8 698,453.2 699.7,453 C701.4,452.4 703.1,451.3 704.3,450 M704.3,445.3 C704.8,447.9 705.3,450.5 705.8,453" stroke="#1f2fa6" stroke-width="2.70" />
<path d="M708.9,453 C709.4,451 709.9,448.9 710.4,446.9 C711.9,445.5 713.4,444.2 715,443.8 C716,443.7 717.1,443.7 718.1,443.8" stroke="#1f2fa6" stroke-width="2.70" />
<path d="M730.4,443.8 C728.4,444 726.3,444.5 724.3,445.3 C723.2,447.2 722.6,449.3 722.7,451.5 C723.5,453.3 724.6,454.5 725.8,454.6 C727.4,454.4 729,453.7 730.4,453" stroke="#1f2fa6" stroke-width="2.70" />
<path d="M733.5,448.4 C736.1,447.9 738.6,447.4 741.2,446.9 C741.6,445.4 741.6,443.8 741.2,442.3 C739.7,441.2 738.1,440.7 736.5,440.7 C734.8,442 733.8,443.6 733.5,445.3 C733.5,447.4 734,449.5 735,451.5 C736.4,453.3 738,454.4 739.6,454.6 C741.2,454.4 742.7,453.7 744.2,453" stroke="#1f2fa6" stroke-width="2.70" />
<path d="M755,433.1 C755,440.3 755,447.4 755,454.6" stroke="#1f2fa6" stroke-width="2.70" />
<path d="M787.3,442.3 C785.8,442.6 784,443 782.7,443.8 C782.2,445.3 782.2,446.9 782.7,448.4 C783.6,449.6 784.6,450.1 785.7,450 C787.5,449.3 789.2,448.1 790.3,446.9 C790.7,445.3 790.3,443.5 788.8,442.3 C788.3,442.2 787.8,442.2 787.3,442.3" stroke="#1f2fa6" stroke-width="2.70" />
<path d="M811.8,419.2 C810.5,417.5 808.8,415.5 807.2,414.6 C805.6,414.8 804,415.2 802.6,416.1 C801.8,418 801.3,420.2 801.1,422.3 C800.6,433.1 800.1,443.8 799.6,454.6 M793.4,436.1 C798,436.1 802.6,436.1 807.2,436.1" stroke="#1f2fa6" stroke-width="2.70" />
<path d="M718.1,468.4 C715.6,468.3 712.9,468.3 710.4,468.4 C709.2,470.8 708.6,473.5 708.9,476.1 C710,478.3 711.8,479.3 713.5,479.2 C715.8,478.6 718,477.4 719.6,476.1 M721.2,468.4 C721.7,472 722.2,475.6 722.7,479.2 C724.2,480.3 725.8,480.9 727.3,480.7 C728.4,477.2 729.4,473.5 730.4,469.9 C731.4,473 732.5,476.1 733.5,479.2" stroke="#1f2fa6" stroke-width="2.70" />
<path d="M736.5,469.9 C738.5,473.5 740.6,477.1 742.7,480.7 C744.2,477.1 745.8,473.5 747.3,469.9 C749.4,469.3 751.4,468.8 753.5,468.4" stroke="#1f2fa6" stroke-width="2.70" /></g>
</svg>
</body></html>
